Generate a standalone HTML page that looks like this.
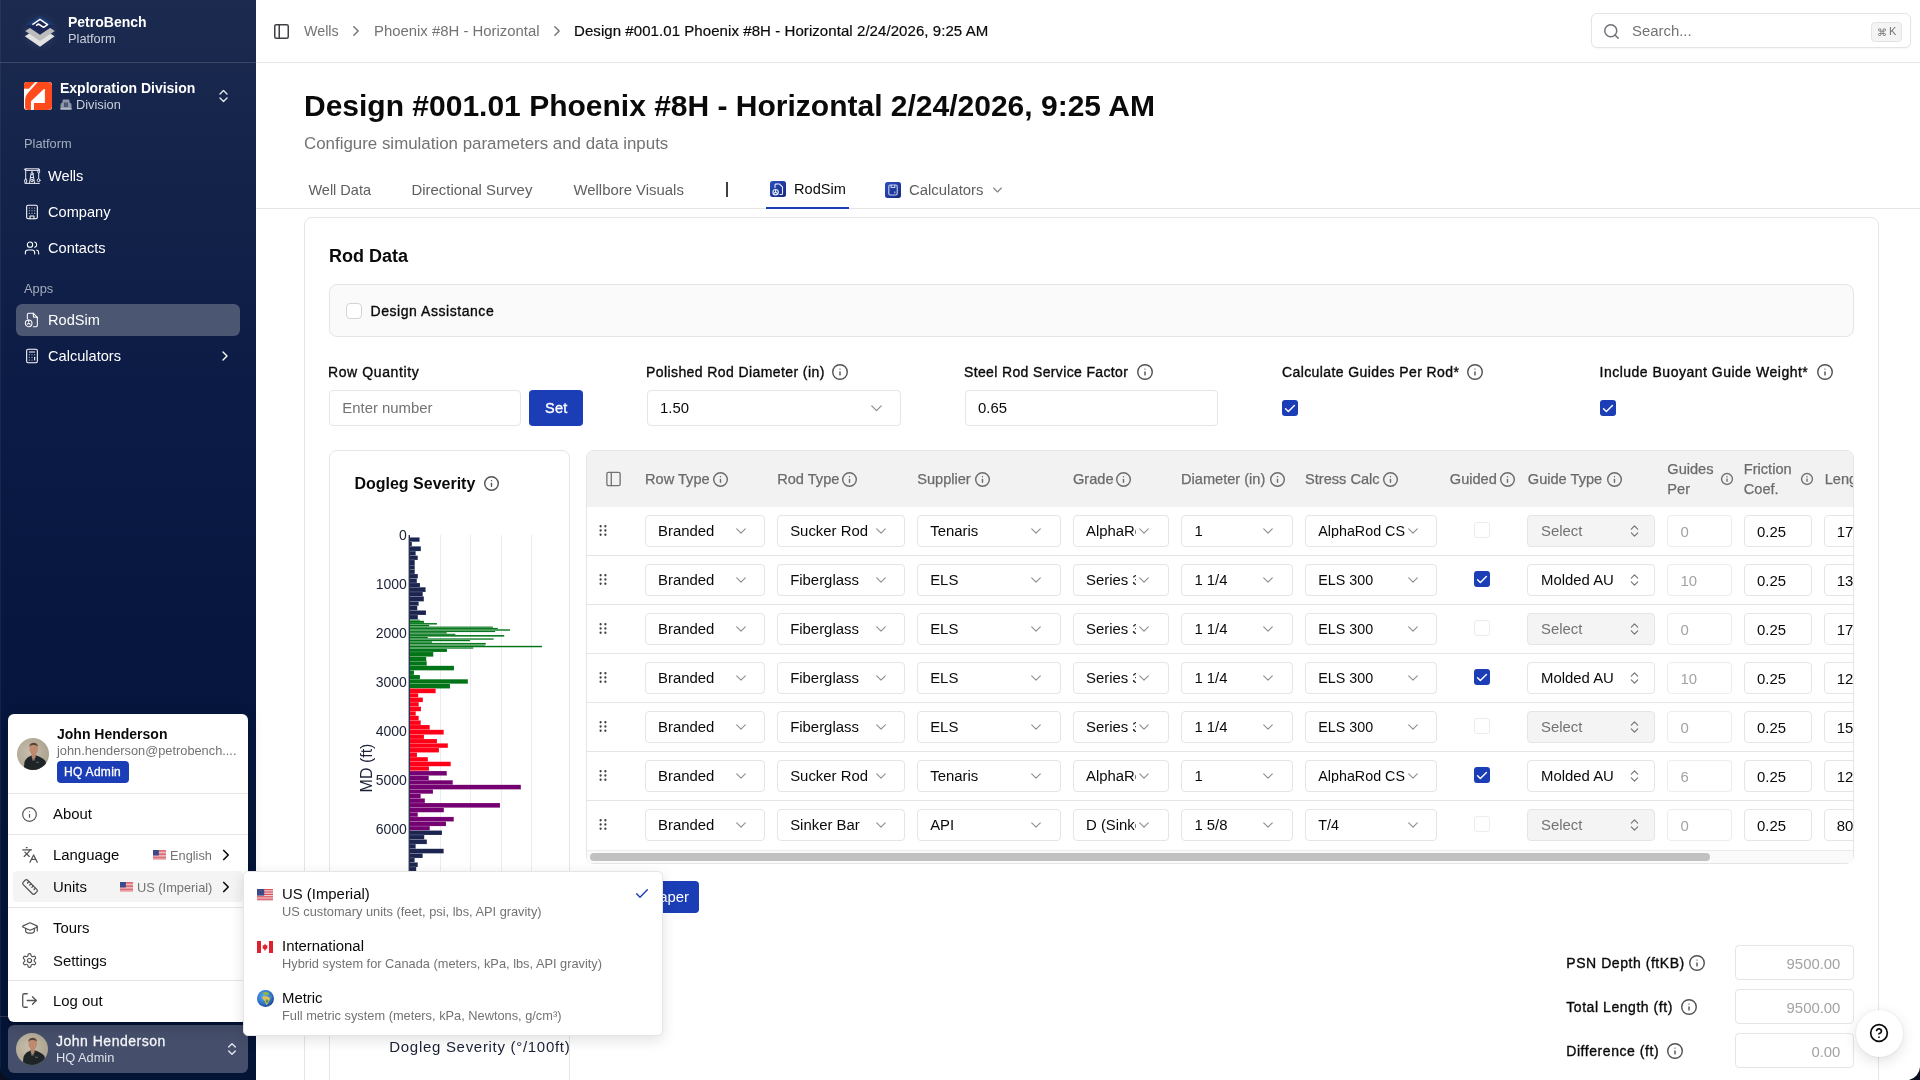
<!DOCTYPE html>
<html><head><meta charset="utf-8"><title>PetroBench</title>
<style>
html,body{margin:0;padding:0;width:1920px;height:1080px;overflow:hidden;background:#fff;font-family:"Liberation Sans", sans-serif;}
.t{position:absolute;white-space:nowrap;line-height:1;font-family:"Liberation Sans", sans-serif;}
.r{position:absolute;}
svg.r{overflow:visible}
</style></head><body><div id="root" style="position:absolute;left:0;top:0;width:1920px;height:1080px;overflow:hidden;background:#fff;will-change:transform">
<div class="r" style="left:0;top:0;width:256px;height:1080px;background:linear-gradient(180deg,#1c2a50 0%,#15244a 14%,#0b1b45 37%,#06163f 60%,#041435 100%);"></div>
<div class="r" style="left:0;top:0;width:1px;height:1080px;background:rgba(255,255,255,0.06)"></div>
<svg class="r" style="left:20px;top:10px" width="40" height="40" viewBox="0 0 40 40">
      <defs><radialGradient id="lg" cx="0.5" cy="0.5" r="0.5"><stop offset="0" stop-color="#ffffff" stop-opacity="0.10"/><stop offset="1" stop-color="#ffffff" stop-opacity="0"/></radialGradient></defs>
      <circle cx="20" cy="22" r="20" fill="url(#lg)"/>
      <path d="M4.8 26.3 L20 16.7 L34.6 26.3 L20 36.7Z" fill="#e2e2e2"/>
      <path d="M5.2 21.1 L20 11.5 L34.8 21.1 L20 30.9Z" fill="#bcbcbc"/>
      <path d="M5.2 14.8 L20 5.2 L34.8 14.8 L20 24.8Z" fill="#1b2757"/>
      <path d="M5.2 14.8 L20 5.2 L34.8 14.8 L27 15 L20 10 L12 15Z" fill="#1d3a6e"/>
      <path d="M12.4 14.6 L20 9.4 L27.6 14.6 L23.6 17.3 L18.5 14 L16 15.6" fill="none" stroke="#ffffff" stroke-width="1.5" stroke-linejoin="round"/>
      <path d="M19.5 12.5 L23 14.8" stroke="#1b2757" stroke-width="1.2"/>
    </svg>
<div class="t" style="left:68.00px;top:15.00px;font-size:14px;color:#ffffff;font-weight:bold;">PetroBench</div>
<div class="t" style="left:68.00px;top:33.00px;font-size:12.8px;color:#c9ced9;font-weight:normal;">Platform</div>
<div class="r" style="left:0px;top:62px;width:256px;height:1px;background:#3b4766"></div>
<svg class="r" style="left:24px;top:82px" width="28" height="28" viewBox="0 0 28 28">
      <rect width="28" height="28" rx="3" fill="#ffffff"/>
      <path d="M0 3 Q0 0 3 0 L11.2 0 L4.9 6.8 L0 6.8Z" fill="#ff4a1c"/>
      <path d="M13.7 0 L24 0 Q28 0 28 4 L28 24 Q28 28 24 28 L9.9 28 L9.9 20.9 L20.9 20.9 L20.9 7.1 L19.8 7.1 L7 19.2 L6.9 28 L4 28 Q1.1 28 1.1 25 L1.1 17.5 Q1.1 14 3.5 11.5Z" fill="#ff4a1c"/>
    </svg>
<div class="t" style="left:60.00px;top:81.00px;font-size:14px;color:#ffffff;font-weight:bold;">Exploration Division</div>
<svg class="r" style="left:60px;top:99px" width="12" height="11" viewBox="0 0 12 11"><path d="M0.5 10.5 V6 Q0.5 3.5 2.5 3.5 L2.5 1.5 Q2.5 0.5 3.5 0.5 L8.5 0.5 Q9.5 0.5 9.5 1.5 L9.5 3.5 Q11.5 3.5 11.5 6 V10.5Z" fill="#8d95a8"/><rect x="4.3" y="3.5" width="1.3" height="4.5" fill="#2b3654"/><rect x="6.4" y="3.5" width="1.3" height="4.5" fill="#2b3654"/><rect x="0.5" y="9.3" width="11" height="1.2" fill="#c5cad6"/></svg>
<div class="t" style="left:76.00px;top:99.00px;font-size:12.8px;color:#c9ced9;font-weight:normal;">Division</div>
<svg class="r" style="left:217px;top:89px;color:#e6e8ee;" width="13" height="14" viewBox="3 2 18 20" fill="none" stroke="currentColor" stroke-width="2" stroke-linecap="round" stroke-linejoin="round"><path d="m7 15 5 5 5-5"/><path d="m7 9 5-5 5 5"/></svg>
<div class="t" style="left:24.00px;top:138.00px;font-size:12.8px;color:#a4acbe;font-weight:normal;">Platform</div>
<svg class="r" style="left:24px;top:168px" width="16" height="16" viewBox="0 0 16 16" fill="none" stroke="#e8eaf0" stroke-width="1" stroke-linecap="round" stroke-linejoin="round"><rect x="1.6" y="0.8" width="13.6" height="1.6" rx="0.4"/><circle cx="1" cy="1.4" r="0.6"/><path d="M1.7 2.4 V11"/><rect x="0.7" y="11" width="2" height="4" rx="1"/><rect x="13.9" y="1.2" width="1.7" height="4" rx="0.85"/><path d="M14.7 5.2 V10.6"/><circle cx="14.6" cy="12.3" r="1.4"/><path d="M8 2.4 V4.6"/><circle cx="8" cy="5.8" r="1.1"/><path d="M6.9 6.5 L5.5 15 M9.1 6.5 L10.5 15 M6.4 9.6 H9.6"/><circle cx="8" cy="12.4" r="1.2"/><path d="M1 15.4 H15.4"/></svg>
<div class="t" style="left:48.00px;top:169.00px;font-size:14.6px;color:#ffffff;font-weight:normal;">Wells</div>
<svg class="r" style="left:24px;top:204px;color:#ffffff;" width="16" height="16" viewBox="0 0 24 24" fill="none" stroke="currentColor" stroke-width="1.6" stroke-linecap="round" stroke-linejoin="round"><rect width="16" height="20" x="4" y="2" rx="2" ry="2"/><path d="M9 22v-4h6v4"/><path d="M8 6h.01"/><path d="M16 6h.01"/><path d="M12 6h.01"/><path d="M12 10h.01"/><path d="M12 14h.01"/><path d="M16 10h.01"/><path d="M16 14h.01"/><path d="M8 10h.01"/><path d="M8 14h.01"/></svg>
<div class="t" style="left:48.00px;top:205.00px;font-size:14.6px;color:#ffffff;font-weight:normal;">Company</div>
<svg class="r" style="left:24px;top:240px;color:#ffffff;" width="16" height="16" viewBox="0 0 24 24" fill="none" stroke="currentColor" stroke-width="1.6" stroke-linecap="round" stroke-linejoin="round"><path d="M16 21v-2a4 4 0 0 0-4-4H6a4 4 0 0 0-4 4v2"/><circle cx="9" cy="7" r="4"/><path d="M22 21v-2a4 4 0 0 0-3-3.87"/><path d="M16 3.13a4 4 0 0 1 0 7.75"/></svg>
<div class="t" style="left:48.00px;top:241.00px;font-size:14.6px;color:#ffffff;font-weight:normal;">Contacts</div>
<div class="t" style="left:24.00px;top:283.00px;font-size:12.8px;color:#a4acbe;font-weight:normal;">Apps</div>
<div class="r" style="left:16px;top:304px;width:224px;height:32px;background:#4b5672;border-radius:6px"></div>
<svg class="r" style="left:24px;top:312px;color:#ffffff;" width="16" height="16" viewBox="0 0 24 24" fill="none" stroke="currentColor" stroke-width="1.6" stroke-linecap="round" stroke-linejoin="round"><path d="M14 2H7a2 2 0 0 0-2 2v6"/><path d="M14 2v4a2 2 0 0 0 2 2h4"/><path d="M20 8v12a2 2 0 0 1-2 2h-4"/><path d="M14 2l6 6"/><circle cx="7" cy="17" r="5"/><path d="M7 15v-3"/><path d="m4.8 18.3 2.2-1.3 2.2 1.3"/></svg>
<div class="t" style="left:48.00px;top:313.00px;font-size:14.6px;color:#ffffff;font-weight:normal;">RodSim</div>
<svg class="r" style="left:24px;top:348px;color:#ffffff;" width="16" height="16" viewBox="0 0 24 24" fill="none" stroke="currentColor" stroke-width="1.6" stroke-linecap="round" stroke-linejoin="round"><rect width="16" height="20" x="4" y="2" rx="2"/><line x1="8" x2="16" y1="6" y2="6"/><line x1="16" x2="16" y1="14" y2="18"/><path d="M16 10h.01"/><path d="M12 10h.01"/><path d="M8 10h.01"/><path d="M12 14h.01"/><path d="M8 14h.01"/><path d="M12 18h.01"/><path d="M8 18h.01"/></svg>
<div class="t" style="left:48.00px;top:349.00px;font-size:14.6px;color:#ffffff;font-weight:normal;">Calculators</div>
<svg class="r" style="left:217px;top:348px;color:#ffffff;" width="16" height="16" viewBox="0 0 24 24" fill="none" stroke="currentColor" stroke-width="2" stroke-linecap="round" stroke-linejoin="round"><path d="m9 18 6-6-6-6"/></svg>
<div class="r" style="left:0px;top:1016px;width:256px;height:1px;background:#2a3656"></div>
<div class="r" style="left:8px;top:1025px;width:240px;height:48px;background:#454f6b;border-radius:6px"></div>
<svg class="r" style="left:16px;top:1033px" width="32" height="32" viewBox="0 0 32 32">
      <defs><clipPath id="cp161033"><circle cx="16" cy="16" r="16"/></clipPath>
      <radialGradient id="bgav161033" cx="0.4" cy="0.45" r="0.7"><stop offset="0" stop-color="#c6bdac"/><stop offset="1" stop-color="#a89f8c"/></radialGradient></defs>
      <g clip-path="url(#cp161033)">
      <rect width="32" height="32" fill="url(#bgav161033)"/>
      <path d="M6.5 33 L7.5 24 C8.5 20.5 12 18.5 14.5 17.5 L19 17.5 C22 18.5 26 20 28.5 23 L30 33Z" fill="#1f2527"/>
      <path d="M14.5 15 L19 15 L18.5 19.5 L16.5 22 L14.8 19.5Z" fill="#b4856b"/>
      <path d="M15 19.5 L16.5 22.5 L18.2 19.5 L17.5 22.5 L15.5 22.5Z" fill="#8f9294"/>
      <ellipse cx="16.7" cy="10.8" rx="4.3" ry="6" fill="#bf8b6f"/>
      <path d="M12.3 9 C12.2 3.5 21 3.3 21.1 9 C20 6.5 13.5 6.3 12.3 9Z" fill="#5a4638"/>
      <path d="M19 24 L22 24.5" stroke="#8a8f92" stroke-width="0.6"/>
      </g></svg>
<div class="t" style="left:56.00px;top:1034.00px;font-size:14px;color:#f4f5f8;font-weight:normal;-webkit-text-stroke:0.3px #f4f5f8;letter-spacing:0.5px">John Henderson</div>
<div class="t" style="left:56.00px;top:1052.00px;font-size:12.8px;color:#dfe2ea;font-weight:normal;">HQ Admin</div>
<svg class="r" style="left:226px;top:1042px;color:#e6e8ee;" width="12" height="14" viewBox="3 2 18 20" fill="none" stroke="currentColor" stroke-width="2" stroke-linecap="round" stroke-linejoin="round"><path d="m7 15 5 5 5-5"/><path d="m7 9 5-5 5 5"/></svg>
<div class="r" style="left:256px;top:62px;width:1664px;height:1px;background:#e5e5e5"></div>
<svg class="r" style="left:274px;top:24px;color:#3f3f46;" width="15" height="15" viewBox="2 2 20 20" fill="none" stroke="currentColor" stroke-width="2" stroke-linecap="round" stroke-linejoin="round"><rect width="18" height="18" x="3" y="3" rx="2"/><path d="M9 3v18"/></svg>
<div class="t" style="left:304.00px;top:24.00px;font-size:14.3px;color:#737373;font-weight:normal;">Wells</div>
<svg class="r" style="left:351px;top:25px;color:#737373;" width="10" height="12" viewBox="5 4 14 16" fill="none" stroke="currentColor" stroke-width="2" stroke-linecap="round" stroke-linejoin="round"><path d="m9 18 6-6-6-6"/></svg>
<div class="t" style="left:374.00px;top:24.00px;font-size:14.9px;color:#737373;font-weight:normal;">Phoenix #8H - Horizontal</div>
<svg class="r" style="left:552px;top:25px;color:#737373;" width="10" height="12" viewBox="5 4 14 16" fill="none" stroke="currentColor" stroke-width="2" stroke-linecap="round" stroke-linejoin="round"><path d="m9 18 6-6-6-6"/></svg>
<div class="t" style="left:574.00px;top:23.00px;font-size:15.0px;color:#0a0a0a;font-weight:normal;letter-spacing:0.07px;-webkit-text-stroke:0.2px #0a0a0a">Design #001.01 Phoenix #8H - Horizontal 2/24/2026, 9:25 AM</div>
<div class="r" style="left:1591px;top:13px;width:320px;height:35px;background:#fff;border:1px solid #e4e4e7;border-radius:6px;box-sizing:border-box;box-shadow:0 1px 2px rgba(0,0,0,0.04)"></div>
<svg class="r" style="left:1604px;top:24px;color:#71717a;" width="15" height="15" viewBox="2 2 20 20" fill="none" stroke="currentColor" stroke-width="2" stroke-linecap="round" stroke-linejoin="round"><circle cx="11" cy="11" r="8"/><path d="m21 21-4.3-4.3"/></svg>
<div class="t" style="left:1632.00px;top:24.00px;font-size:14.9px;color:#737373;font-weight:normal;">Search...</div>
<div class="r" style="left:1871px;top:22px;width:31px;height:20px;background:#f4f4f5;border:1px solid #e4e4e7;border-radius:4px;box-sizing:border-box"></div>
<div class="t" style="left:1877.00px;top:28.00px;font-size:10px;color:#737373;font-weight:normal;">&#8984;</div>
<div class="t" style="left:1889.00px;top:26.00px;font-size:11px;color:#737373;font-weight:normal;">K</div>
<div class="t" style="left:304.00px;top:91.00px;font-size:30px;color:#0a0a0a;font-weight:bold;">Design #001.01 Phoenix #8H - Horizontal 2/24/2026, 9:25 AM</div>
<div class="t" style="left:304.00px;top:136.00px;font-size:16.9px;color:#737373;font-weight:normal;">Configure simulation parameters and data inputs</div>
<div class="r" style="left:256px;top:208px;width:1664px;height:1px;background:#e5e5e5"></div>
<div class="t" style="left:308.40px;top:183.00px;font-size:14.5px;color:#5f5f5f;font-weight:normal;">Well Data</div>
<div class="t" style="left:411.50px;top:183.00px;font-size:14.9px;color:#5f5f5f;font-weight:normal;">Directional Survey</div>
<div class="t" style="left:573.50px;top:183.00px;font-size:14.9px;color:#5f5f5f;font-weight:normal;">Wellbore Visuals</div>
<div class="r" style="left:726px;top:182px;width:1.5px;height:15px;background:#404040"></div>
<svg class="r" style="left:770px;top:181px" width="16" height="16" viewBox="0 0 16 16"><defs><linearGradient id="tg1" x1="0" y1="0" x2="1" y2="1"><stop offset="0" stop-color="#2a4ec2"/><stop offset="1" stop-color="#172a7e"/></linearGradient></defs><rect width="16" height="16" rx="2.5" fill="url(#tg1)"/><g fill="none" stroke="#e8ecf8" stroke-width="1.1" stroke-linecap="round"><path d="M6 3h3.5l3 3v6.5a1 1 0 0 1-1 1H10"/><path d="M6 3a1 1 0 0 0-1 1v2.5"/><circle cx="5.6" cy="11.2" r="2.7"/><path d="M5.6 11.2V8.8M5.6 11.2l-2 1.3M5.6 11.2l2 1.3"/></g></svg>
<div class="t" style="left:794.00px;top:182.00px;font-size:14.6px;color:#0a0a0a;font-weight:normal;">RodSim</div>
<div class="r" style="left:766px;top:207px;width:83px;height:2px;background:#1b3eb6"></div>
<svg class="r" style="left:885px;top:182px" width="16" height="16" viewBox="0 0 16 16"><defs><linearGradient id="tg2" x1="0" y1="0" x2="1" y2="1"><stop offset="0" stop-color="#2a4ec2"/><stop offset="1" stop-color="#172a7e"/></linearGradient></defs><rect width="16" height="16" rx="2.5" fill="url(#tg2)"/><rect x="3.8" y="3" width="8.4" height="10" rx="1.4" fill="none" stroke="#c9d2ee" stroke-width="1.1"/><path d="M6.2 3v2.5h3.6V3M9.8 9.5v1.8" stroke="#c9d2ee" stroke-width="1.1" fill="none"/></svg>
<div class="t" style="left:909.00px;top:183.00px;font-size:14.9px;color:#5f5f5f;font-weight:normal;">Calculators</div>
<svg class="r" style="left:993px;top:187px;color:#8a8a8a;" width="9" height="6" viewBox="5 8 14 8" fill="none" stroke="currentColor" stroke-width="2" stroke-linecap="round" stroke-linejoin="round"><path d="m6 9 6 6 6-6"/></svg>
<div class="r" style="left:304px;top:217px;width:1575px;height:900px;background:#fff;border:1px solid #e5e5e5;border-radius:8px;box-sizing:border-box"></div>
<div class="t" style="left:329.00px;top:247.00px;font-size:18px;color:#0a0a0a;font-weight:bold;">Rod Data</div>
<div class="r" style="left:329px;top:284px;width:1525px;height:53px;background:#fafafa;border:1px solid #e5e5e5;border-radius:8px;box-sizing:border-box"></div>
<div class="r" style="left:346px;top:303px;width:16px;height:16px;background:#fff;border:1px solid #d4d4d8;border-radius:4px;box-sizing:border-box"></div>
<div class="t" style="left:370.50px;top:304.00px;font-size:14px;color:#0a0a0a;font-weight:normal;-webkit-text-stroke:0.35px #0a0a0a;letter-spacing:0.55px">Design Assistance</div>
<div class="t" style="left:328.00px;top:365.00px;font-size:14px;color:#0a0a0a;font-weight:normal;-webkit-text-stroke:0.35px #0a0a0a;letter-spacing:0.6px">Row Quantity</div>
<div class="t" style="left:646.00px;top:365.00px;font-size:14px;color:#0a0a0a;font-weight:normal;-webkit-text-stroke:0.35px #0a0a0a;letter-spacing:0.41px">Polished Rod Diameter (in)</div>
<svg class="r" style="left:832.0px;top:364.0px;color:#525252;" width="16" height="16" viewBox="1 1 22 22" fill="none" stroke="currentColor" stroke-width="1.9500000000000002" stroke-linecap="round" stroke-linejoin="round"><circle cx="12" cy="12" r="10"/><path d="M12 16v-4"/><path d="M12 8h.01"/></svg>
<div class="t" style="left:964.00px;top:365.00px;font-size:14px;color:#0a0a0a;font-weight:normal;-webkit-text-stroke:0.35px #0a0a0a;letter-spacing:0.36px">Steel Rod Service Factor</div>
<svg class="r" style="left:1137.0px;top:364.0px;color:#525252;" width="16" height="16" viewBox="1 1 22 22" fill="none" stroke="currentColor" stroke-width="1.9500000000000002" stroke-linecap="round" stroke-linejoin="round"><circle cx="12" cy="12" r="10"/><path d="M12 16v-4"/><path d="M12 8h.01"/></svg>
<div class="t" style="left:1282.00px;top:365.00px;font-size:14px;color:#0a0a0a;font-weight:normal;-webkit-text-stroke:0.35px #0a0a0a;letter-spacing:0.4px">Calculate Guides Per Rod*</div>
<svg class="r" style="left:1467.0px;top:364.0px;color:#525252;" width="16" height="16" viewBox="1 1 22 22" fill="none" stroke="currentColor" stroke-width="1.9500000000000002" stroke-linecap="round" stroke-linejoin="round"><circle cx="12" cy="12" r="10"/><path d="M12 16v-4"/><path d="M12 8h.01"/></svg>
<div class="t" style="left:1599.50px;top:365.00px;font-size:14px;color:#0a0a0a;font-weight:normal;-webkit-text-stroke:0.35px #0a0a0a;letter-spacing:0.5px">Include Buoyant Guide Weight*</div>
<svg class="r" style="left:1817.0px;top:364.0px;color:#525252;" width="16" height="16" viewBox="1 1 22 22" fill="none" stroke="currentColor" stroke-width="1.9500000000000002" stroke-linecap="round" stroke-linejoin="round"><circle cx="12" cy="12" r="10"/><path d="M12 16v-4"/><path d="M12 8h.01"/></svg>
<div class="r" style="left:329px;top:390px;width:192px;height:36px;background:#fff;border:1px solid #e5e5e5;border-radius:4px;box-sizing:border-box"></div>
<div class="t" style="left:342.30px;top:401.00px;font-size:14.9px;color:#737373;font-weight:normal;">Enter number</div>
<div class="r" style="left:529px;top:390px;width:54px;height:36px;background:#1b3eb6;border-radius:4px"></div>
<div class="t" style="left:545.00px;top:401.00px;font-size:14.5px;color:#fff;font-weight:normal;-webkit-text-stroke:0.35px #fff;letter-spacing:0.3px">Set</div>
<div class="r" style="left:647px;top:390px;width:254px;height:36px;background:#fff;border:1px solid #e5e5e5;border-radius:4px;box-sizing:border-box"></div>
<div class="t" style="left:660.00px;top:401.00px;font-size:14.9px;color:#0a0a0a;font-weight:normal;">1.50</div>
<svg class="r" style="left:870.5px;top:405px;color:#8f8f8f;" width="11" height="6.5" viewBox="5 8 14 8" fill="none" stroke="currentColor" stroke-width="1.6" stroke-linecap="round" stroke-linejoin="round"><path d="m6 9 6 6 6-6"/></svg>
<div class="r" style="left:965px;top:390px;width:253px;height:36px;background:#fff;border:1px solid #e5e5e5;border-radius:4px;box-sizing:border-box"></div>
<div class="t" style="left:978.00px;top:401.00px;font-size:14.9px;color:#0a0a0a;font-weight:normal;">0.65</div>
<div class="r" style="left:1282px;top:400px;width:16px;height:16px;background:#1b3eb6;border-radius:3px"></div>
<svg class="r" style="left:1285px;top:403.5px;color:#fff;" width="10" height="9" viewBox="3 4 18 15" fill="none" stroke="currentColor" stroke-width="2.6" stroke-linecap="round" stroke-linejoin="round"><path d="M20 6 9 17l-5-5"/></svg>
<div class="r" style="left:1600px;top:400px;width:16px;height:16px;background:#1b3eb6;border-radius:3px"></div>
<svg class="r" style="left:1603px;top:403.5px;color:#fff;" width="10" height="9" viewBox="3 4 18 15" fill="none" stroke="currentColor" stroke-width="2.6" stroke-linecap="round" stroke-linejoin="round"><path d="M20 6 9 17l-5-5"/></svg>
<div class="r" style="left:329px;top:450px;width:241px;height:700px;background:#fff;border:1px solid #e5e5e5;border-radius:8px;box-sizing:border-box"></div>
<div class="t" style="left:354.40px;top:476.00px;font-size:16px;color:#0a0a0a;font-weight:bold;">Dogleg Severity</div>
<svg class="r" style="left:484.4px;top:475.5px;color:#525252;" width="15.0" height="15.0" viewBox="1 1 22 22" fill="none" stroke="currentColor" stroke-width="2.08" stroke-linecap="round" stroke-linejoin="round"><circle cx="12" cy="12" r="10"/><path d="M12 16v-4"/><path d="M12 8h.01"/></svg>
<div class="r" style="left:440.0px;top:535px;width:1px;height:336px;background:#ebecef"></div>
<div class="r" style="left:470.3px;top:535px;width:1px;height:336px;background:#ebecef"></div>
<div class="r" style="left:500.7px;top:535px;width:1px;height:336px;background:#ebecef"></div>
<div class="r" style="left:531.1px;top:535px;width:1px;height:336px;background:#ebecef"></div>
<svg class="r" style="left:0;top:0" width="600" height="900" viewBox="0 0 600 900"><rect x="409.5" y="537.40" width="10.10" height="4.40" fill="#1b2550" stroke="rgba(255,255,255,0.35)" stroke-width="0.4"/><rect x="409.5" y="541.80" width="2.40" height="4.50" fill="#1b2550" stroke="rgba(255,255,255,0.35)" stroke-width="0.4"/><rect x="409.5" y="546.30" width="11.40" height="4.80" fill="#1b2550" stroke="rgba(255,255,255,0.35)" stroke-width="0.4"/><rect x="409.5" y="551.10" width="6.20" height="4.50" fill="#1b2550" stroke="rgba(255,255,255,0.35)" stroke-width="0.4"/><rect x="409.5" y="555.60" width="8.30" height="4.40" fill="#1b2550" stroke="rgba(255,255,255,0.35)" stroke-width="0.4"/><rect x="409.5" y="560.00" width="5.30" height="5.20" fill="#1b2550" stroke="rgba(255,255,255,0.35)" stroke-width="0.4"/><rect x="409.5" y="565.20" width="5.30" height="4.10" fill="#1b2550" stroke="rgba(255,255,255,0.35)" stroke-width="0.4"/><rect x="409.5" y="569.30" width="5.30" height="4.70" fill="#1b2550" stroke="rgba(255,255,255,0.35)" stroke-width="0.4"/><rect x="409.5" y="574.00" width="8.40" height="4.50" fill="#1b2550" stroke="rgba(255,255,255,0.35)" stroke-width="0.4"/><rect x="409.5" y="578.50" width="7.40" height="4.50" fill="#1b2550" stroke="rgba(255,255,255,0.35)" stroke-width="0.4"/><rect x="409.5" y="583.00" width="10.50" height="4.20" fill="#1b2550" stroke="rgba(255,255,255,0.35)" stroke-width="0.4"/><rect x="409.5" y="587.20" width="16.10" height="4.80" fill="#1b2550" stroke="rgba(255,255,255,0.35)" stroke-width="0.4"/><rect x="409.5" y="592.00" width="13.30" height="4.40" fill="#1b2550" stroke="rgba(255,255,255,0.35)" stroke-width="0.4"/><rect x="409.5" y="596.40" width="14.40" height="5.00" fill="#1b2550" stroke="rgba(255,255,255,0.35)" stroke-width="0.4"/><rect x="409.5" y="601.40" width="9.20" height="4.40" fill="#1b2550" stroke="rgba(255,255,255,0.35)" stroke-width="0.4"/><rect x="409.5" y="605.80" width="7.80" height="4.60" fill="#1b2550" stroke="rgba(255,255,255,0.35)" stroke-width="0.4"/><rect x="409.5" y="610.40" width="16.50" height="4.60" fill="#1b2550" stroke="rgba(255,255,255,0.35)" stroke-width="0.4"/><rect x="409.5" y="615.00" width="8.40" height="4.60" fill="#1b2550" stroke="rgba(255,255,255,0.35)" stroke-width="0.4"/><rect x="409.5" y="619.60" width="10.30" height="1.20" fill="#007417" stroke="rgba(255,255,255,0.35)" stroke-width="0.4"/><rect x="409.5" y="620.80" width="14.50" height="2.20" fill="#007417" stroke="rgba(255,255,255,0.35)" stroke-width="0.4"/><rect x="409.5" y="623.00" width="27.50" height="1.60" fill="#007417" stroke="rgba(255,255,255,0.35)" stroke-width="0.4"/><rect x="409.5" y="624.60" width="19.70" height="1.90" fill="#007417" stroke="rgba(255,255,255,0.35)" stroke-width="0.4"/><rect x="409.5" y="626.50" width="83.40" height="1.40" fill="#007417" stroke="rgba(255,255,255,0.35)" stroke-width="0.4"/><rect x="409.5" y="627.90" width="88.40" height="1.30" fill="#007417" stroke="rgba(255,255,255,0.35)" stroke-width="0.4"/><rect x="409.5" y="629.20" width="100.50" height="1.60" fill="#007417" stroke="rgba(255,255,255,0.35)" stroke-width="0.4"/><rect x="409.5" y="630.80" width="85.70" height="1.30" fill="#007417" stroke="rgba(255,255,255,0.35)" stroke-width="0.4"/><rect x="409.5" y="632.10" width="37.20" height="1.65" fill="#007417" stroke="rgba(255,255,255,0.35)" stroke-width="0.4"/><rect x="409.5" y="633.75" width="45.90" height="1.25" fill="#007417" stroke="rgba(255,255,255,0.35)" stroke-width="0.4"/><rect x="409.5" y="635.00" width="94.70" height="1.70" fill="#007417" stroke="rgba(255,255,255,0.35)" stroke-width="0.4"/><rect x="409.5" y="636.70" width="18.40" height="1.60" fill="#007417" stroke="rgba(255,255,255,0.35)" stroke-width="0.4"/><rect x="409.5" y="638.30" width="84.10" height="1.50" fill="#007417" stroke="rgba(255,255,255,0.35)" stroke-width="0.4"/><rect x="409.5" y="639.80" width="60.50" height="1.45" fill="#007417" stroke="rgba(255,255,255,0.35)" stroke-width="0.4"/><rect x="409.5" y="641.25" width="22.50" height="1.65" fill="#007417" stroke="rgba(255,255,255,0.35)" stroke-width="0.4"/><rect x="409.5" y="642.90" width="76.30" height="1.70" fill="#007417" stroke="rgba(255,255,255,0.35)" stroke-width="0.4"/><rect x="409.5" y="644.60" width="75.30" height="1.20" fill="#007417" stroke="rgba(255,255,255,0.35)" stroke-width="0.4"/><rect x="409.5" y="645.80" width="132.50" height="1.50" fill="#007417" stroke="rgba(255,255,255,0.35)" stroke-width="0.4"/><rect x="409.5" y="647.30" width="63.80" height="1.45" fill="#007417" stroke="rgba(255,255,255,0.35)" stroke-width="0.4"/><rect x="409.5" y="648.75" width="37.50" height="3.25" fill="#007417" stroke="rgba(255,255,255,0.35)" stroke-width="0.4"/><rect x="409.5" y="652.00" width="23.80" height="4.70" fill="#007417" stroke="rgba(255,255,255,0.35)" stroke-width="0.4"/><rect x="409.5" y="656.70" width="16.75" height="4.55" fill="#007417" stroke="rgba(255,255,255,0.35)" stroke-width="0.4"/><rect x="409.5" y="661.25" width="17.30" height="4.55" fill="#007417" stroke="rgba(255,255,255,0.35)" stroke-width="0.4"/><rect x="409.5" y="665.80" width="44.50" height="4.60" fill="#007417" stroke="rgba(255,255,255,0.35)" stroke-width="0.4"/><rect x="409.5" y="670.40" width="4.50" height="4.60" fill="#007417" stroke="rgba(255,255,255,0.35)" stroke-width="0.4"/><rect x="409.5" y="675.00" width="10.50" height="4.20" fill="#007417" stroke="rgba(255,255,255,0.35)" stroke-width="0.4"/><rect x="409.5" y="679.20" width="58.40" height="4.55" fill="#007417" stroke="rgba(255,255,255,0.35)" stroke-width="0.4"/><rect x="409.5" y="683.75" width="40.50" height="4.75" fill="#007417" stroke="rgba(255,255,255,0.35)" stroke-width="0.4"/><rect x="409.5" y="688.50" width="26.20" height="4.70" fill="#ff0018" stroke="rgba(255,255,255,0.35)" stroke-width="0.4"/><rect x="409.5" y="693.20" width="8.70" height="4.30" fill="#ff0018" stroke="rgba(255,255,255,0.35)" stroke-width="0.4"/><rect x="409.5" y="697.50" width="13.40" height="4.60" fill="#ff0018" stroke="rgba(255,255,255,0.35)" stroke-width="0.4"/><rect x="409.5" y="702.10" width="9.25" height="4.60" fill="#ff0018" stroke="rgba(255,255,255,0.35)" stroke-width="0.4"/><rect x="409.5" y="706.70" width="11.50" height="4.55" fill="#ff0018" stroke="rgba(255,255,255,0.35)" stroke-width="0.4"/><rect x="409.5" y="711.25" width="6.30" height="4.55" fill="#ff0018" stroke="rgba(255,255,255,0.35)" stroke-width="0.4"/><rect x="409.5" y="715.80" width="9.25" height="4.60" fill="#ff0018" stroke="rgba(255,255,255,0.35)" stroke-width="0.4"/><rect x="409.5" y="720.40" width="11.30" height="4.60" fill="#ff0018" stroke="rgba(255,255,255,0.35)" stroke-width="0.4"/><rect x="409.5" y="725.00" width="20.30" height="4.80" fill="#ff0018" stroke="rgba(255,255,255,0.35)" stroke-width="0.4"/><rect x="409.5" y="729.80" width="34.25" height="4.80" fill="#ff0018" stroke="rgba(255,255,255,0.35)" stroke-width="0.4"/><rect x="409.5" y="734.60" width="14.50" height="4.40" fill="#ff0018" stroke="rgba(255,255,255,0.35)" stroke-width="0.4"/><rect x="409.5" y="739.00" width="27.50" height="4.30" fill="#ff0018" stroke="rgba(255,255,255,0.35)" stroke-width="0.4"/><rect x="409.5" y="743.30" width="38.40" height="4.60" fill="#ff0018" stroke="rgba(255,255,255,0.35)" stroke-width="0.4"/><rect x="409.5" y="747.90" width="29.50" height="4.60" fill="#ff0018" stroke="rgba(255,255,255,0.35)" stroke-width="0.4"/><rect x="409.5" y="752.50" width="7.50" height="4.60" fill="#ff0018" stroke="rgba(255,255,255,0.35)" stroke-width="0.4"/><rect x="409.5" y="757.10" width="18.40" height="4.60" fill="#ff0018" stroke="rgba(255,255,255,0.35)" stroke-width="0.4"/><rect x="409.5" y="761.70" width="41.30" height="4.55" fill="#ff0018" stroke="rgba(255,255,255,0.35)" stroke-width="0.4"/><rect x="409.5" y="766.25" width="19.50" height="4.55" fill="#ff0018" stroke="rgba(255,255,255,0.35)" stroke-width="0.4"/><rect x="409.5" y="771.00" width="37.30" height="4.60" fill="#750072" stroke="rgba(255,255,255,0.35)" stroke-width="0.4"/><rect x="409.5" y="775.60" width="19.30" height="4.60" fill="#750072" stroke="rgba(255,255,255,0.35)" stroke-width="0.4"/><rect x="409.5" y="780.20" width="43.30" height="4.60" fill="#750072" stroke="rgba(255,255,255,0.35)" stroke-width="0.4"/><rect x="409.5" y="784.80" width="111.40" height="4.60" fill="#750072" stroke="rgba(255,255,255,0.35)" stroke-width="0.4"/><rect x="409.5" y="789.40" width="23.50" height="4.40" fill="#750072" stroke="rgba(255,255,255,0.35)" stroke-width="0.4"/><rect x="409.5" y="793.80" width="11.20" height="4.60" fill="#750072" stroke="rgba(255,255,255,0.35)" stroke-width="0.4"/><rect x="409.5" y="798.40" width="15.40" height="4.60" fill="#750072" stroke="rgba(255,255,255,0.35)" stroke-width="0.4"/><rect x="409.5" y="803.00" width="90.50" height="4.70" fill="#750072" stroke="rgba(255,255,255,0.35)" stroke-width="0.4"/><rect x="409.5" y="807.70" width="34.40" height="4.60" fill="#750072" stroke="rgba(255,255,255,0.35)" stroke-width="0.4"/><rect x="409.5" y="812.30" width="8.30" height="4.60" fill="#750072" stroke="rgba(255,255,255,0.35)" stroke-width="0.4"/><rect x="409.5" y="816.90" width="44.30" height="4.60" fill="#750072" stroke="rgba(255,255,255,0.35)" stroke-width="0.4"/><rect x="409.5" y="821.50" width="36.50" height="4.60" fill="#750072" stroke="rgba(255,255,255,0.35)" stroke-width="0.4"/><rect x="409.5" y="826.10" width="20.30" height="4.40" fill="#750072" stroke="rgba(255,255,255,0.35)" stroke-width="0.4"/><rect x="409.5" y="830.50" width="32.50" height="4.50" fill="#1b2550" stroke="rgba(255,255,255,0.35)" stroke-width="0.4"/><rect x="409.5" y="835.00" width="14.75" height="4.50" fill="#1b2550" stroke="rgba(255,255,255,0.35)" stroke-width="0.4"/><rect x="409.5" y="839.50" width="17.40" height="4.60" fill="#1b2550" stroke="rgba(255,255,255,0.35)" stroke-width="0.4"/><rect x="409.5" y="844.10" width="6.20" height="4.65" fill="#1b2550" stroke="rgba(255,255,255,0.35)" stroke-width="0.4"/><rect x="409.5" y="848.75" width="34.20" height="4.65" fill="#1b2550" stroke="rgba(255,255,255,0.35)" stroke-width="0.4"/><rect x="409.5" y="853.40" width="13.20" height="4.60" fill="#1b2550" stroke="rgba(255,255,255,0.35)" stroke-width="0.4"/><rect x="409.5" y="858.00" width="5.20" height="4.40" fill="#1b2550" stroke="rgba(255,255,255,0.35)" stroke-width="0.4"/><rect x="409.5" y="862.40" width="8.30" height="4.60" fill="#1b2550" stroke="rgba(255,255,255,0.35)" stroke-width="0.4"/><rect x="409.5" y="867.00" width="6.70" height="4.10" fill="#1b2550" stroke="rgba(255,255,255,0.35)" stroke-width="0.4"/><rect x="408.6" y="535" width="1.4" height="336" fill="#2a3350"/></svg>
<div class="t" style="right:1513.20px;top:528.00px;font-size:14px;color:#1b2036;font-weight:normal;">0</div>
<div class="t" style="right:1513.20px;top:577.00px;font-size:14px;color:#1b2036;font-weight:normal;">1000</div>
<div class="t" style="right:1513.20px;top:626.00px;font-size:14px;color:#1b2036;font-weight:normal;">2000</div>
<div class="t" style="right:1513.20px;top:675.00px;font-size:14px;color:#1b2036;font-weight:normal;">3000</div>
<div class="t" style="right:1513.20px;top:724.00px;font-size:14px;color:#1b2036;font-weight:normal;">4000</div>
<div class="t" style="right:1513.20px;top:773.00px;font-size:14px;color:#1b2036;font-weight:normal;">5000</div>
<div class="t" style="right:1513.20px;top:822.00px;font-size:14px;color:#1b2036;font-weight:normal;">6000</div>
<div class="t" style="left:366.7px;top:767.7px;font-size:16px;color:#1b2036;transform:translate(-50%,-50%) rotate(-90deg);line-height:1">MD (ft)</div>
<div class="t" style="left:389.30px;top:1039.00px;font-size:15px;color:#1b2036;font-weight:normal;letter-spacing:0.7px">Dogleg Severity (°/100ft)</div>
<div class="r" style="left:586px;top:450px;width:1268px;height:414px;border:1px solid #e5e5e5;border-radius:8px;box-sizing:border-box;overflow:hidden;background:#fff">
<div style="position:absolute;left:0;top:0;width:100%;height:56px;background:#f2f2f2"></div>
</div>
<svg class="r" style="left:605.5px;top:472px;color:#737373;" width="15" height="14" viewBox="2.5 2.5 19 19" fill="none" stroke="currentColor" stroke-width="1.8" stroke-linecap="round" stroke-linejoin="round"><rect width="18" height="18" x="3" y="3" rx="2"/><path d="M9 3v18"/></svg>
<div class="t" style="left:645.00px;top:472.00px;font-size:14.6px;color:#6b6b6b;font-weight:normal;-webkit-text-stroke:0.25px #6b6b6b">Row Type</div>
<svg class="r" style="left:712.5px;top:471.5px;color:#6b6b6b;" width="15.0" height="15.0" viewBox="1 1 22 22" fill="none" stroke="currentColor" stroke-width="2.08" stroke-linecap="round" stroke-linejoin="round"><circle cx="12" cy="12" r="10"/><path d="M12 16v-4"/><path d="M12 8h.01"/></svg>
<div class="t" style="left:777.20px;top:472.00px;font-size:14.6px;color:#6b6b6b;font-weight:normal;-webkit-text-stroke:0.25px #6b6b6b">Rod Type</div>
<svg class="r" style="left:842.0px;top:471.5px;color:#6b6b6b;" width="15.0" height="15.0" viewBox="1 1 22 22" fill="none" stroke="currentColor" stroke-width="2.08" stroke-linecap="round" stroke-linejoin="round"><circle cx="12" cy="12" r="10"/><path d="M12 16v-4"/><path d="M12 8h.01"/></svg>
<div class="t" style="left:917.20px;top:472.00px;font-size:14.6px;color:#6b6b6b;font-weight:normal;-webkit-text-stroke:0.25px #6b6b6b">Supplier</div>
<svg class="r" style="left:974.5px;top:471.5px;color:#6b6b6b;" width="15.0" height="15.0" viewBox="1 1 22 22" fill="none" stroke="currentColor" stroke-width="2.08" stroke-linecap="round" stroke-linejoin="round"><circle cx="12" cy="12" r="10"/><path d="M12 16v-4"/><path d="M12 8h.01"/></svg>
<div class="t" style="left:1073.00px;top:472.00px;font-size:14.6px;color:#6b6b6b;font-weight:normal;-webkit-text-stroke:0.25px #6b6b6b">Grade</div>
<svg class="r" style="left:1115.5px;top:471.5px;color:#6b6b6b;" width="15.0" height="15.0" viewBox="1 1 22 22" fill="none" stroke="currentColor" stroke-width="2.08" stroke-linecap="round" stroke-linejoin="round"><circle cx="12" cy="12" r="10"/><path d="M12 16v-4"/><path d="M12 8h.01"/></svg>
<div class="t" style="left:1181.00px;top:472.00px;font-size:14.6px;color:#6b6b6b;font-weight:normal;-webkit-text-stroke:0.25px #6b6b6b">Diameter (in)</div>
<svg class="r" style="left:1269.5px;top:471.5px;color:#6b6b6b;" width="15.0" height="15.0" viewBox="1 1 22 22" fill="none" stroke="currentColor" stroke-width="2.08" stroke-linecap="round" stroke-linejoin="round"><circle cx="12" cy="12" r="10"/><path d="M12 16v-4"/><path d="M12 8h.01"/></svg>
<div class="t" style="left:1305.00px;top:472.00px;font-size:14.6px;color:#6b6b6b;font-weight:normal;-webkit-text-stroke:0.25px #6b6b6b">Stress Calc</div>
<svg class="r" style="left:1383.2px;top:471.5px;color:#6b6b6b;" width="15.0" height="15.0" viewBox="1 1 22 22" fill="none" stroke="currentColor" stroke-width="2.08" stroke-linecap="round" stroke-linejoin="round"><circle cx="12" cy="12" r="10"/><path d="M12 16v-4"/><path d="M12 8h.01"/></svg>
<div class="t" style="left:1449.80px;top:472.00px;font-size:14.6px;color:#6b6b6b;font-weight:normal;-webkit-text-stroke:0.25px #6b6b6b">Guided</div>
<svg class="r" style="left:1499.5px;top:471.5px;color:#6b6b6b;" width="15.0" height="15.0" viewBox="1 1 22 22" fill="none" stroke="currentColor" stroke-width="2.08" stroke-linecap="round" stroke-linejoin="round"><circle cx="12" cy="12" r="10"/><path d="M12 16v-4"/><path d="M12 8h.01"/></svg>
<div class="t" style="left:1527.80px;top:472.00px;font-size:14.6px;color:#6b6b6b;font-weight:normal;-webkit-text-stroke:0.25px #6b6b6b">Guide Type</div>
<svg class="r" style="left:1606.5px;top:471.5px;color:#6b6b6b;" width="15.0" height="15.0" viewBox="1 1 22 22" fill="none" stroke="currentColor" stroke-width="2.08" stroke-linecap="round" stroke-linejoin="round"><circle cx="12" cy="12" r="10"/><path d="M12 16v-4"/><path d="M12 8h.01"/></svg>
<div class="t" style="left:1667.30px;top:462.00px;font-size:14.6px;color:#6b6b6b;font-weight:normal;-webkit-text-stroke:0.25px #6b6b6b">Guides</div>
<div class="t" style="left:1667.30px;top:482.00px;font-size:14.6px;color:#6b6b6b;font-weight:normal;-webkit-text-stroke:0.25px #6b6b6b">Per</div>
<svg class="r" style="left:1720.5px;top:473.0px;color:#737373;" width="12" height="12" viewBox="1 1 22 22" fill="none" stroke="currentColor" stroke-width="2.6" stroke-linecap="round" stroke-linejoin="round"><circle cx="12" cy="12" r="10"/><path d="M12 16v-4"/><path d="M12 8h.01"/></svg>
<div class="t" style="left:1743.80px;top:462.00px;font-size:14.6px;color:#6b6b6b;font-weight:normal;-webkit-text-stroke:0.25px #6b6b6b">Friction</div>
<div class="t" style="left:1743.80px;top:482.00px;font-size:14.6px;color:#6b6b6b;font-weight:normal;-webkit-text-stroke:0.25px #6b6b6b">Coef.</div>
<svg class="r" style="left:1800.8px;top:473.0px;color:#737373;" width="12" height="12" viewBox="1 1 22 22" fill="none" stroke="currentColor" stroke-width="2.6" stroke-linecap="round" stroke-linejoin="round"><circle cx="12" cy="12" r="10"/><path d="M12 16v-4"/><path d="M12 8h.01"/></svg>
<div class="r" style="left:1824px;top:460px;width:29px;height:40px;overflow:hidden"><div class="t" style="left:0.7px;top:11.5px;font-size:14.6px;color:#6b6b6b;-webkit-text-stroke:0.25px #6b6b6b">Length</div></div>
<div class="r" style="left:587px;top:555px;width:1266px;height:1px;background:#e5e5e5"></div>
<svg class="r" style="left:598.5px;top:524.9px" width="8" height="11" viewBox="0 0 7 10.6"><circle cx="1.2" cy="1.2" r="1.1" fill="#404040"/><circle cx="1.2" cy="5.3" r="1.1" fill="#404040"/><circle cx="1.2" cy="9.4" r="1.1" fill="#404040"/><circle cx="5.8" cy="1.2" r="1.1" fill="#404040"/><circle cx="5.8" cy="5.3" r="1.1" fill="#404040"/><circle cx="5.8" cy="9.4" r="1.1" fill="#404040"/></svg>
<div class="r" style="left:645px;top:515px;width:120px;height:32px;background:#fff;border:1px solid #e5e5e5;border-radius:4px;box-sizing:border-box"></div>
<div class="t" style="left:658.00px;top:524.00px;font-size:14.9px;color:#0a0a0a;font-weight:normal;">Branded</div>
<svg class="r" style="left:735.5px;top:527.9px;color:#8f8f8f;" width="10" height="6" viewBox="5 8 14 8" fill="none" stroke="currentColor" stroke-width="1.6" stroke-linecap="round" stroke-linejoin="round"><path d="m6 9 6 6 6-6"/></svg>
<div class="r" style="left:777.2px;top:515px;width:128px;height:32px;background:#fff;border:1px solid #e5e5e5;border-radius:4px;box-sizing:border-box"></div>
<div class="t" style="left:790.20px;top:524.00px;font-size:14.9px;color:#0a0a0a;font-weight:normal;">Sucker Rod</div>
<svg class="r" style="left:875.7px;top:527.9px;color:#8f8f8f;" width="10" height="6" viewBox="5 8 14 8" fill="none" stroke="currentColor" stroke-width="1.6" stroke-linecap="round" stroke-linejoin="round"><path d="m6 9 6 6 6-6"/></svg>
<div class="r" style="left:917.2px;top:515px;width:143.5px;height:32px;background:#fff;border:1px solid #e5e5e5;border-radius:4px;box-sizing:border-box"></div>
<div class="t" style="left:930.20px;top:524.00px;font-size:14.9px;color:#0a0a0a;font-weight:normal;">Tenaris</div>
<svg class="r" style="left:1031.2px;top:527.9px;color:#8f8f8f;" width="10" height="6" viewBox="5 8 14 8" fill="none" stroke="currentColor" stroke-width="1.6" stroke-linecap="round" stroke-linejoin="round"><path d="m6 9 6 6 6-6"/></svg>
<div class="r" style="left:1073px;top:515px;width:96px;height:32px;background:#fff;border:1px solid #e5e5e5;border-radius:4px;box-sizing:border-box"></div>
<div class="t" style="left:1086.00px;top:524.00px;font-size:14.9px;color:#0a0a0a;font-weight:normal;width:50px;overflow:hidden">AlphaRo</div>
<svg class="r" style="left:1139px;top:527.9px;color:#8f8f8f;" width="10" height="6" viewBox="5 8 14 8" fill="none" stroke="currentColor" stroke-width="1.6" stroke-linecap="round" stroke-linejoin="round"><path d="m6 9 6 6 6-6"/></svg>
<div class="r" style="left:1181.4px;top:515px;width:111.5px;height:32px;background:#fff;border:1px solid #e5e5e5;border-radius:4px;box-sizing:border-box"></div>
<div class="t" style="left:1194.40px;top:524.00px;font-size:14.9px;color:#0a0a0a;font-weight:normal;">1</div>
<svg class="r" style="left:1263.4px;top:527.9px;color:#8f8f8f;" width="10" height="6" viewBox="5 8 14 8" fill="none" stroke="currentColor" stroke-width="1.6" stroke-linecap="round" stroke-linejoin="round"><path d="m6 9 6 6 6-6"/></svg>
<div class="r" style="left:1305.3px;top:515px;width:132.2px;height:32px;background:#fff;border:1px solid #e5e5e5;border-radius:4px;box-sizing:border-box"></div>
<div class="t" style="left:1318.30px;top:524.00px;font-size:14.9px;color:#0a0a0a;font-weight:normal;width:87px;overflow:hidden;font-size:14.3px">AlphaRod CS</div>
<svg class="r" style="left:1408.0px;top:527.9px;color:#8f8f8f;" width="10" height="6" viewBox="5 8 14 8" fill="none" stroke="currentColor" stroke-width="1.6" stroke-linecap="round" stroke-linejoin="round"><path d="m6 9 6 6 6-6"/></svg>
<div class="r" style="left:1474px;top:522.4px;width:16px;height:16px;background:#fff;border:1px solid #ececec;border-radius:3px;box-sizing:border-box"></div>
<div class="r" style="left:1527px;top:515px;width:128px;height:32px;background:#f4f4f5;border:1px solid #e5e5e5;border-radius:4px;box-sizing:border-box"></div>
<div class="t" style="left:1541.00px;top:524.00px;font-size:14.9px;color:#737373;font-weight:normal;">Select</div>
<svg class="r" style="left:1629.5px;top:523.9px;color:#737373;" width="9" height="14" viewBox="5 2 14 20" fill="none" stroke="currentColor" stroke-width="1.8" stroke-linecap="round" stroke-linejoin="round"><path d="m7 15 5 5 5-5"/><path d="m7 9 5-5 5 5"/></svg>
<div class="r" style="left:1667.3px;top:515px;width:64.5px;height:32px;background:#fff;border:1px solid #ececec;border-radius:4px;box-sizing:border-box"></div>
<div class="t" style="left:1680.40px;top:525.00px;font-size:14.9px;color:#a3a3a3;font-weight:normal;">0</div>
<div class="r" style="left:1743.8px;top:515px;width:68px;height:32px;background:#fff;border:1px solid #e5e5e5;border-radius:4px;box-sizing:border-box"></div>
<div class="t" style="left:1757.00px;top:525.00px;font-size:14.9px;color:#0a0a0a;font-weight:normal;">0.25</div>
<div class="r" style="left:1824px;top:515px;width:29px;height:32px;overflow:hidden"><div style="position:absolute;left:0;top:0;width:60px;height:32px;border:1px solid #e5e5e5;border-radius:4px;box-sizing:border-box"></div></div>
<div class="t" style="left:1836.80px;top:525.00px;font-size:14.9px;color:#0a0a0a;font-weight:normal;width:16.5px;overflow:hidden">170</div>
<div class="r" style="left:587px;top:604px;width:1266px;height:1px;background:#e5e5e5"></div>
<svg class="r" style="left:598.5px;top:573.9px" width="8" height="11" viewBox="0 0 7 10.6"><circle cx="1.2" cy="1.2" r="1.1" fill="#404040"/><circle cx="1.2" cy="5.3" r="1.1" fill="#404040"/><circle cx="1.2" cy="9.4" r="1.1" fill="#404040"/><circle cx="5.8" cy="1.2" r="1.1" fill="#404040"/><circle cx="5.8" cy="5.3" r="1.1" fill="#404040"/><circle cx="5.8" cy="9.4" r="1.1" fill="#404040"/></svg>
<div class="r" style="left:645px;top:564px;width:120px;height:32px;background:#fff;border:1px solid #e5e5e5;border-radius:4px;box-sizing:border-box"></div>
<div class="t" style="left:658.00px;top:573.00px;font-size:14.9px;color:#0a0a0a;font-weight:normal;">Branded</div>
<svg class="r" style="left:735.5px;top:576.9px;color:#8f8f8f;" width="10" height="6" viewBox="5 8 14 8" fill="none" stroke="currentColor" stroke-width="1.6" stroke-linecap="round" stroke-linejoin="round"><path d="m6 9 6 6 6-6"/></svg>
<div class="r" style="left:777.2px;top:564px;width:128px;height:32px;background:#fff;border:1px solid #e5e5e5;border-radius:4px;box-sizing:border-box"></div>
<div class="t" style="left:790.20px;top:573.00px;font-size:14.9px;color:#0a0a0a;font-weight:normal;">Fiberglass</div>
<svg class="r" style="left:875.7px;top:576.9px;color:#8f8f8f;" width="10" height="6" viewBox="5 8 14 8" fill="none" stroke="currentColor" stroke-width="1.6" stroke-linecap="round" stroke-linejoin="round"><path d="m6 9 6 6 6-6"/></svg>
<div class="r" style="left:917.2px;top:564px;width:143.5px;height:32px;background:#fff;border:1px solid #e5e5e5;border-radius:4px;box-sizing:border-box"></div>
<div class="t" style="left:930.20px;top:573.00px;font-size:14.9px;color:#0a0a0a;font-weight:normal;">ELS</div>
<svg class="r" style="left:1031.2px;top:576.9px;color:#8f8f8f;" width="10" height="6" viewBox="5 8 14 8" fill="none" stroke="currentColor" stroke-width="1.6" stroke-linecap="round" stroke-linejoin="round"><path d="m6 9 6 6 6-6"/></svg>
<div class="r" style="left:1073px;top:564px;width:96px;height:32px;background:#fff;border:1px solid #e5e5e5;border-radius:4px;box-sizing:border-box"></div>
<div class="t" style="left:1086.00px;top:573.00px;font-size:14.9px;color:#0a0a0a;font-weight:normal;width:50px;overflow:hidden">Series 3</div>
<svg class="r" style="left:1139px;top:576.9px;color:#8f8f8f;" width="10" height="6" viewBox="5 8 14 8" fill="none" stroke="currentColor" stroke-width="1.6" stroke-linecap="round" stroke-linejoin="round"><path d="m6 9 6 6 6-6"/></svg>
<div class="r" style="left:1181.4px;top:564px;width:111.5px;height:32px;background:#fff;border:1px solid #e5e5e5;border-radius:4px;box-sizing:border-box"></div>
<div class="t" style="left:1194.40px;top:573.00px;font-size:14.9px;color:#0a0a0a;font-weight:normal;">1 1/4</div>
<svg class="r" style="left:1263.4px;top:576.9px;color:#8f8f8f;" width="10" height="6" viewBox="5 8 14 8" fill="none" stroke="currentColor" stroke-width="1.6" stroke-linecap="round" stroke-linejoin="round"><path d="m6 9 6 6 6-6"/></svg>
<div class="r" style="left:1305.3px;top:564px;width:132.2px;height:32px;background:#fff;border:1px solid #e5e5e5;border-radius:4px;box-sizing:border-box"></div>
<div class="t" style="left:1318.30px;top:573.00px;font-size:14.9px;color:#0a0a0a;font-weight:normal;width:87px;overflow:hidden;font-size:14.3px">ELS 300</div>
<svg class="r" style="left:1408.0px;top:576.9px;color:#8f8f8f;" width="10" height="6" viewBox="5 8 14 8" fill="none" stroke="currentColor" stroke-width="1.6" stroke-linecap="round" stroke-linejoin="round"><path d="m6 9 6 6 6-6"/></svg>
<div class="r" style="left:1474px;top:571.4px;width:16px;height:16px;background:#1b3eb6;border-radius:3px"></div>
<svg class="r" style="left:1477px;top:574.9px;color:#fff;" width="10" height="9" viewBox="3 4 18 15" fill="none" stroke="currentColor" stroke-width="2.6" stroke-linecap="round" stroke-linejoin="round"><path d="M20 6 9 17l-5-5"/></svg>
<div class="r" style="left:1527px;top:564px;width:128px;height:32px;background:#fff;border:1px solid #e5e5e5;border-radius:4px;box-sizing:border-box"></div>
<div class="t" style="left:1541.00px;top:573.00px;font-size:14.9px;color:#0a0a0a;font-weight:normal;">Molded AU</div>
<svg class="r" style="left:1629.5px;top:572.9px;color:#737373;" width="9" height="14" viewBox="5 2 14 20" fill="none" stroke="currentColor" stroke-width="1.8" stroke-linecap="round" stroke-linejoin="round"><path d="m7 15 5 5 5-5"/><path d="m7 9 5-5 5 5"/></svg>
<div class="r" style="left:1667.3px;top:564px;width:64.5px;height:32px;background:#fff;border:1px solid #ececec;border-radius:4px;box-sizing:border-box"></div>
<div class="t" style="left:1680.40px;top:574.00px;font-size:14.9px;color:#a3a3a3;font-weight:normal;">10</div>
<div class="r" style="left:1743.8px;top:564px;width:68px;height:32px;background:#fff;border:1px solid #e5e5e5;border-radius:4px;box-sizing:border-box"></div>
<div class="t" style="left:1757.00px;top:574.00px;font-size:14.9px;color:#0a0a0a;font-weight:normal;">0.25</div>
<div class="r" style="left:1824px;top:564px;width:29px;height:32px;overflow:hidden"><div style="position:absolute;left:0;top:0;width:60px;height:32px;border:1px solid #e5e5e5;border-radius:4px;box-sizing:border-box"></div></div>
<div class="t" style="left:1836.80px;top:574.00px;font-size:14.9px;color:#0a0a0a;font-weight:normal;width:16.5px;overflow:hidden">135</div>
<div class="r" style="left:587px;top:653px;width:1266px;height:1px;background:#e5e5e5"></div>
<svg class="r" style="left:598.5px;top:622.9px" width="8" height="11" viewBox="0 0 7 10.6"><circle cx="1.2" cy="1.2" r="1.1" fill="#404040"/><circle cx="1.2" cy="5.3" r="1.1" fill="#404040"/><circle cx="1.2" cy="9.4" r="1.1" fill="#404040"/><circle cx="5.8" cy="1.2" r="1.1" fill="#404040"/><circle cx="5.8" cy="5.3" r="1.1" fill="#404040"/><circle cx="5.8" cy="9.4" r="1.1" fill="#404040"/></svg>
<div class="r" style="left:645px;top:613px;width:120px;height:32px;background:#fff;border:1px solid #e5e5e5;border-radius:4px;box-sizing:border-box"></div>
<div class="t" style="left:658.00px;top:622.00px;font-size:14.9px;color:#0a0a0a;font-weight:normal;">Branded</div>
<svg class="r" style="left:735.5px;top:625.9px;color:#8f8f8f;" width="10" height="6" viewBox="5 8 14 8" fill="none" stroke="currentColor" stroke-width="1.6" stroke-linecap="round" stroke-linejoin="round"><path d="m6 9 6 6 6-6"/></svg>
<div class="r" style="left:777.2px;top:613px;width:128px;height:32px;background:#fff;border:1px solid #e5e5e5;border-radius:4px;box-sizing:border-box"></div>
<div class="t" style="left:790.20px;top:622.00px;font-size:14.9px;color:#0a0a0a;font-weight:normal;">Fiberglass</div>
<svg class="r" style="left:875.7px;top:625.9px;color:#8f8f8f;" width="10" height="6" viewBox="5 8 14 8" fill="none" stroke="currentColor" stroke-width="1.6" stroke-linecap="round" stroke-linejoin="round"><path d="m6 9 6 6 6-6"/></svg>
<div class="r" style="left:917.2px;top:613px;width:143.5px;height:32px;background:#fff;border:1px solid #e5e5e5;border-radius:4px;box-sizing:border-box"></div>
<div class="t" style="left:930.20px;top:622.00px;font-size:14.9px;color:#0a0a0a;font-weight:normal;">ELS</div>
<svg class="r" style="left:1031.2px;top:625.9px;color:#8f8f8f;" width="10" height="6" viewBox="5 8 14 8" fill="none" stroke="currentColor" stroke-width="1.6" stroke-linecap="round" stroke-linejoin="round"><path d="m6 9 6 6 6-6"/></svg>
<div class="r" style="left:1073px;top:613px;width:96px;height:32px;background:#fff;border:1px solid #e5e5e5;border-radius:4px;box-sizing:border-box"></div>
<div class="t" style="left:1086.00px;top:622.00px;font-size:14.9px;color:#0a0a0a;font-weight:normal;width:50px;overflow:hidden">Series 3</div>
<svg class="r" style="left:1139px;top:625.9px;color:#8f8f8f;" width="10" height="6" viewBox="5 8 14 8" fill="none" stroke="currentColor" stroke-width="1.6" stroke-linecap="round" stroke-linejoin="round"><path d="m6 9 6 6 6-6"/></svg>
<div class="r" style="left:1181.4px;top:613px;width:111.5px;height:32px;background:#fff;border:1px solid #e5e5e5;border-radius:4px;box-sizing:border-box"></div>
<div class="t" style="left:1194.40px;top:622.00px;font-size:14.9px;color:#0a0a0a;font-weight:normal;">1 1/4</div>
<svg class="r" style="left:1263.4px;top:625.9px;color:#8f8f8f;" width="10" height="6" viewBox="5 8 14 8" fill="none" stroke="currentColor" stroke-width="1.6" stroke-linecap="round" stroke-linejoin="round"><path d="m6 9 6 6 6-6"/></svg>
<div class="r" style="left:1305.3px;top:613px;width:132.2px;height:32px;background:#fff;border:1px solid #e5e5e5;border-radius:4px;box-sizing:border-box"></div>
<div class="t" style="left:1318.30px;top:622.00px;font-size:14.9px;color:#0a0a0a;font-weight:normal;width:87px;overflow:hidden;font-size:14.3px">ELS 300</div>
<svg class="r" style="left:1408.0px;top:625.9px;color:#8f8f8f;" width="10" height="6" viewBox="5 8 14 8" fill="none" stroke="currentColor" stroke-width="1.6" stroke-linecap="round" stroke-linejoin="round"><path d="m6 9 6 6 6-6"/></svg>
<div class="r" style="left:1474px;top:620.4px;width:16px;height:16px;background:#fff;border:1px solid #ececec;border-radius:3px;box-sizing:border-box"></div>
<div class="r" style="left:1527px;top:613px;width:128px;height:32px;background:#f4f4f5;border:1px solid #e5e5e5;border-radius:4px;box-sizing:border-box"></div>
<div class="t" style="left:1541.00px;top:622.00px;font-size:14.9px;color:#737373;font-weight:normal;">Select</div>
<svg class="r" style="left:1629.5px;top:621.9px;color:#737373;" width="9" height="14" viewBox="5 2 14 20" fill="none" stroke="currentColor" stroke-width="1.8" stroke-linecap="round" stroke-linejoin="round"><path d="m7 15 5 5 5-5"/><path d="m7 9 5-5 5 5"/></svg>
<div class="r" style="left:1667.3px;top:613px;width:64.5px;height:32px;background:#fff;border:1px solid #ececec;border-radius:4px;box-sizing:border-box"></div>
<div class="t" style="left:1680.40px;top:623.00px;font-size:14.9px;color:#a3a3a3;font-weight:normal;">0</div>
<div class="r" style="left:1743.8px;top:613px;width:68px;height:32px;background:#fff;border:1px solid #e5e5e5;border-radius:4px;box-sizing:border-box"></div>
<div class="t" style="left:1757.00px;top:623.00px;font-size:14.9px;color:#0a0a0a;font-weight:normal;">0.25</div>
<div class="r" style="left:1824px;top:613px;width:29px;height:32px;overflow:hidden"><div style="position:absolute;left:0;top:0;width:60px;height:32px;border:1px solid #e5e5e5;border-radius:4px;box-sizing:border-box"></div></div>
<div class="t" style="left:1836.80px;top:623.00px;font-size:14.9px;color:#0a0a0a;font-weight:normal;width:16.5px;overflow:hidden">170</div>
<div class="r" style="left:587px;top:702px;width:1266px;height:1px;background:#e5e5e5"></div>
<svg class="r" style="left:598.5px;top:671.9px" width="8" height="11" viewBox="0 0 7 10.6"><circle cx="1.2" cy="1.2" r="1.1" fill="#404040"/><circle cx="1.2" cy="5.3" r="1.1" fill="#404040"/><circle cx="1.2" cy="9.4" r="1.1" fill="#404040"/><circle cx="5.8" cy="1.2" r="1.1" fill="#404040"/><circle cx="5.8" cy="5.3" r="1.1" fill="#404040"/><circle cx="5.8" cy="9.4" r="1.1" fill="#404040"/></svg>
<div class="r" style="left:645px;top:662px;width:120px;height:32px;background:#fff;border:1px solid #e5e5e5;border-radius:4px;box-sizing:border-box"></div>
<div class="t" style="left:658.00px;top:671.00px;font-size:14.9px;color:#0a0a0a;font-weight:normal;">Branded</div>
<svg class="r" style="left:735.5px;top:674.9px;color:#8f8f8f;" width="10" height="6" viewBox="5 8 14 8" fill="none" stroke="currentColor" stroke-width="1.6" stroke-linecap="round" stroke-linejoin="round"><path d="m6 9 6 6 6-6"/></svg>
<div class="r" style="left:777.2px;top:662px;width:128px;height:32px;background:#fff;border:1px solid #e5e5e5;border-radius:4px;box-sizing:border-box"></div>
<div class="t" style="left:790.20px;top:671.00px;font-size:14.9px;color:#0a0a0a;font-weight:normal;">Fiberglass</div>
<svg class="r" style="left:875.7px;top:674.9px;color:#8f8f8f;" width="10" height="6" viewBox="5 8 14 8" fill="none" stroke="currentColor" stroke-width="1.6" stroke-linecap="round" stroke-linejoin="round"><path d="m6 9 6 6 6-6"/></svg>
<div class="r" style="left:917.2px;top:662px;width:143.5px;height:32px;background:#fff;border:1px solid #e5e5e5;border-radius:4px;box-sizing:border-box"></div>
<div class="t" style="left:930.20px;top:671.00px;font-size:14.9px;color:#0a0a0a;font-weight:normal;">ELS</div>
<svg class="r" style="left:1031.2px;top:674.9px;color:#8f8f8f;" width="10" height="6" viewBox="5 8 14 8" fill="none" stroke="currentColor" stroke-width="1.6" stroke-linecap="round" stroke-linejoin="round"><path d="m6 9 6 6 6-6"/></svg>
<div class="r" style="left:1073px;top:662px;width:96px;height:32px;background:#fff;border:1px solid #e5e5e5;border-radius:4px;box-sizing:border-box"></div>
<div class="t" style="left:1086.00px;top:671.00px;font-size:14.9px;color:#0a0a0a;font-weight:normal;width:50px;overflow:hidden">Series 3</div>
<svg class="r" style="left:1139px;top:674.9px;color:#8f8f8f;" width="10" height="6" viewBox="5 8 14 8" fill="none" stroke="currentColor" stroke-width="1.6" stroke-linecap="round" stroke-linejoin="round"><path d="m6 9 6 6 6-6"/></svg>
<div class="r" style="left:1181.4px;top:662px;width:111.5px;height:32px;background:#fff;border:1px solid #e5e5e5;border-radius:4px;box-sizing:border-box"></div>
<div class="t" style="left:1194.40px;top:671.00px;font-size:14.9px;color:#0a0a0a;font-weight:normal;">1 1/4</div>
<svg class="r" style="left:1263.4px;top:674.9px;color:#8f8f8f;" width="10" height="6" viewBox="5 8 14 8" fill="none" stroke="currentColor" stroke-width="1.6" stroke-linecap="round" stroke-linejoin="round"><path d="m6 9 6 6 6-6"/></svg>
<div class="r" style="left:1305.3px;top:662px;width:132.2px;height:32px;background:#fff;border:1px solid #e5e5e5;border-radius:4px;box-sizing:border-box"></div>
<div class="t" style="left:1318.30px;top:671.00px;font-size:14.9px;color:#0a0a0a;font-weight:normal;width:87px;overflow:hidden;font-size:14.3px">ELS 300</div>
<svg class="r" style="left:1408.0px;top:674.9px;color:#8f8f8f;" width="10" height="6" viewBox="5 8 14 8" fill="none" stroke="currentColor" stroke-width="1.6" stroke-linecap="round" stroke-linejoin="round"><path d="m6 9 6 6 6-6"/></svg>
<div class="r" style="left:1474px;top:669.4px;width:16px;height:16px;background:#1b3eb6;border-radius:3px"></div>
<svg class="r" style="left:1477px;top:672.9px;color:#fff;" width="10" height="9" viewBox="3 4 18 15" fill="none" stroke="currentColor" stroke-width="2.6" stroke-linecap="round" stroke-linejoin="round"><path d="M20 6 9 17l-5-5"/></svg>
<div class="r" style="left:1527px;top:662px;width:128px;height:32px;background:#fff;border:1px solid #e5e5e5;border-radius:4px;box-sizing:border-box"></div>
<div class="t" style="left:1541.00px;top:671.00px;font-size:14.9px;color:#0a0a0a;font-weight:normal;">Molded AU</div>
<svg class="r" style="left:1629.5px;top:670.9px;color:#737373;" width="9" height="14" viewBox="5 2 14 20" fill="none" stroke="currentColor" stroke-width="1.8" stroke-linecap="round" stroke-linejoin="round"><path d="m7 15 5 5 5-5"/><path d="m7 9 5-5 5 5"/></svg>
<div class="r" style="left:1667.3px;top:662px;width:64.5px;height:32px;background:#fff;border:1px solid #ececec;border-radius:4px;box-sizing:border-box"></div>
<div class="t" style="left:1680.40px;top:672.00px;font-size:14.9px;color:#a3a3a3;font-weight:normal;">10</div>
<div class="r" style="left:1743.8px;top:662px;width:68px;height:32px;background:#fff;border:1px solid #e5e5e5;border-radius:4px;box-sizing:border-box"></div>
<div class="t" style="left:1757.00px;top:672.00px;font-size:14.9px;color:#0a0a0a;font-weight:normal;">0.25</div>
<div class="r" style="left:1824px;top:662px;width:29px;height:32px;overflow:hidden"><div style="position:absolute;left:0;top:0;width:60px;height:32px;border:1px solid #e5e5e5;border-radius:4px;box-sizing:border-box"></div></div>
<div class="t" style="left:1836.80px;top:672.00px;font-size:14.9px;color:#0a0a0a;font-weight:normal;width:16.5px;overflow:hidden">125</div>
<div class="r" style="left:587px;top:751px;width:1266px;height:1px;background:#e5e5e5"></div>
<svg class="r" style="left:598.5px;top:720.9px" width="8" height="11" viewBox="0 0 7 10.6"><circle cx="1.2" cy="1.2" r="1.1" fill="#404040"/><circle cx="1.2" cy="5.3" r="1.1" fill="#404040"/><circle cx="1.2" cy="9.4" r="1.1" fill="#404040"/><circle cx="5.8" cy="1.2" r="1.1" fill="#404040"/><circle cx="5.8" cy="5.3" r="1.1" fill="#404040"/><circle cx="5.8" cy="9.4" r="1.1" fill="#404040"/></svg>
<div class="r" style="left:645px;top:711px;width:120px;height:32px;background:#fff;border:1px solid #e5e5e5;border-radius:4px;box-sizing:border-box"></div>
<div class="t" style="left:658.00px;top:720.00px;font-size:14.9px;color:#0a0a0a;font-weight:normal;">Branded</div>
<svg class="r" style="left:735.5px;top:723.9px;color:#8f8f8f;" width="10" height="6" viewBox="5 8 14 8" fill="none" stroke="currentColor" stroke-width="1.6" stroke-linecap="round" stroke-linejoin="round"><path d="m6 9 6 6 6-6"/></svg>
<div class="r" style="left:777.2px;top:711px;width:128px;height:32px;background:#fff;border:1px solid #e5e5e5;border-radius:4px;box-sizing:border-box"></div>
<div class="t" style="left:790.20px;top:720.00px;font-size:14.9px;color:#0a0a0a;font-weight:normal;">Fiberglass</div>
<svg class="r" style="left:875.7px;top:723.9px;color:#8f8f8f;" width="10" height="6" viewBox="5 8 14 8" fill="none" stroke="currentColor" stroke-width="1.6" stroke-linecap="round" stroke-linejoin="round"><path d="m6 9 6 6 6-6"/></svg>
<div class="r" style="left:917.2px;top:711px;width:143.5px;height:32px;background:#fff;border:1px solid #e5e5e5;border-radius:4px;box-sizing:border-box"></div>
<div class="t" style="left:930.20px;top:720.00px;font-size:14.9px;color:#0a0a0a;font-weight:normal;">ELS</div>
<svg class="r" style="left:1031.2px;top:723.9px;color:#8f8f8f;" width="10" height="6" viewBox="5 8 14 8" fill="none" stroke="currentColor" stroke-width="1.6" stroke-linecap="round" stroke-linejoin="round"><path d="m6 9 6 6 6-6"/></svg>
<div class="r" style="left:1073px;top:711px;width:96px;height:32px;background:#fff;border:1px solid #e5e5e5;border-radius:4px;box-sizing:border-box"></div>
<div class="t" style="left:1086.00px;top:720.00px;font-size:14.9px;color:#0a0a0a;font-weight:normal;width:50px;overflow:hidden">Series 3</div>
<svg class="r" style="left:1139px;top:723.9px;color:#8f8f8f;" width="10" height="6" viewBox="5 8 14 8" fill="none" stroke="currentColor" stroke-width="1.6" stroke-linecap="round" stroke-linejoin="round"><path d="m6 9 6 6 6-6"/></svg>
<div class="r" style="left:1181.4px;top:711px;width:111.5px;height:32px;background:#fff;border:1px solid #e5e5e5;border-radius:4px;box-sizing:border-box"></div>
<div class="t" style="left:1194.40px;top:720.00px;font-size:14.9px;color:#0a0a0a;font-weight:normal;">1 1/4</div>
<svg class="r" style="left:1263.4px;top:723.9px;color:#8f8f8f;" width="10" height="6" viewBox="5 8 14 8" fill="none" stroke="currentColor" stroke-width="1.6" stroke-linecap="round" stroke-linejoin="round"><path d="m6 9 6 6 6-6"/></svg>
<div class="r" style="left:1305.3px;top:711px;width:132.2px;height:32px;background:#fff;border:1px solid #e5e5e5;border-radius:4px;box-sizing:border-box"></div>
<div class="t" style="left:1318.30px;top:720.00px;font-size:14.9px;color:#0a0a0a;font-weight:normal;width:87px;overflow:hidden;font-size:14.3px">ELS 300</div>
<svg class="r" style="left:1408.0px;top:723.9px;color:#8f8f8f;" width="10" height="6" viewBox="5 8 14 8" fill="none" stroke="currentColor" stroke-width="1.6" stroke-linecap="round" stroke-linejoin="round"><path d="m6 9 6 6 6-6"/></svg>
<div class="r" style="left:1474px;top:718.4px;width:16px;height:16px;background:#fff;border:1px solid #ececec;border-radius:3px;box-sizing:border-box"></div>
<div class="r" style="left:1527px;top:711px;width:128px;height:32px;background:#f4f4f5;border:1px solid #e5e5e5;border-radius:4px;box-sizing:border-box"></div>
<div class="t" style="left:1541.00px;top:720.00px;font-size:14.9px;color:#737373;font-weight:normal;">Select</div>
<svg class="r" style="left:1629.5px;top:719.9px;color:#737373;" width="9" height="14" viewBox="5 2 14 20" fill="none" stroke="currentColor" stroke-width="1.8" stroke-linecap="round" stroke-linejoin="round"><path d="m7 15 5 5 5-5"/><path d="m7 9 5-5 5 5"/></svg>
<div class="r" style="left:1667.3px;top:711px;width:64.5px;height:32px;background:#fff;border:1px solid #ececec;border-radius:4px;box-sizing:border-box"></div>
<div class="t" style="left:1680.40px;top:721.00px;font-size:14.9px;color:#a3a3a3;font-weight:normal;">0</div>
<div class="r" style="left:1743.8px;top:711px;width:68px;height:32px;background:#fff;border:1px solid #e5e5e5;border-radius:4px;box-sizing:border-box"></div>
<div class="t" style="left:1757.00px;top:721.00px;font-size:14.9px;color:#0a0a0a;font-weight:normal;">0.25</div>
<div class="r" style="left:1824px;top:711px;width:29px;height:32px;overflow:hidden"><div style="position:absolute;left:0;top:0;width:60px;height:32px;border:1px solid #e5e5e5;border-radius:4px;box-sizing:border-box"></div></div>
<div class="t" style="left:1836.80px;top:721.00px;font-size:14.9px;color:#0a0a0a;font-weight:normal;width:16.5px;overflow:hidden">150</div>
<div class="r" style="left:587px;top:800px;width:1266px;height:1px;background:#e5e5e5"></div>
<svg class="r" style="left:598.5px;top:769.9px" width="8" height="11" viewBox="0 0 7 10.6"><circle cx="1.2" cy="1.2" r="1.1" fill="#404040"/><circle cx="1.2" cy="5.3" r="1.1" fill="#404040"/><circle cx="1.2" cy="9.4" r="1.1" fill="#404040"/><circle cx="5.8" cy="1.2" r="1.1" fill="#404040"/><circle cx="5.8" cy="5.3" r="1.1" fill="#404040"/><circle cx="5.8" cy="9.4" r="1.1" fill="#404040"/></svg>
<div class="r" style="left:645px;top:760px;width:120px;height:32px;background:#fff;border:1px solid #e5e5e5;border-radius:4px;box-sizing:border-box"></div>
<div class="t" style="left:658.00px;top:769.00px;font-size:14.9px;color:#0a0a0a;font-weight:normal;">Branded</div>
<svg class="r" style="left:735.5px;top:772.9px;color:#8f8f8f;" width="10" height="6" viewBox="5 8 14 8" fill="none" stroke="currentColor" stroke-width="1.6" stroke-linecap="round" stroke-linejoin="round"><path d="m6 9 6 6 6-6"/></svg>
<div class="r" style="left:777.2px;top:760px;width:128px;height:32px;background:#fff;border:1px solid #e5e5e5;border-radius:4px;box-sizing:border-box"></div>
<div class="t" style="left:790.20px;top:769.00px;font-size:14.9px;color:#0a0a0a;font-weight:normal;">Sucker Rod</div>
<svg class="r" style="left:875.7px;top:772.9px;color:#8f8f8f;" width="10" height="6" viewBox="5 8 14 8" fill="none" stroke="currentColor" stroke-width="1.6" stroke-linecap="round" stroke-linejoin="round"><path d="m6 9 6 6 6-6"/></svg>
<div class="r" style="left:917.2px;top:760px;width:143.5px;height:32px;background:#fff;border:1px solid #e5e5e5;border-radius:4px;box-sizing:border-box"></div>
<div class="t" style="left:930.20px;top:769.00px;font-size:14.9px;color:#0a0a0a;font-weight:normal;">Tenaris</div>
<svg class="r" style="left:1031.2px;top:772.9px;color:#8f8f8f;" width="10" height="6" viewBox="5 8 14 8" fill="none" stroke="currentColor" stroke-width="1.6" stroke-linecap="round" stroke-linejoin="round"><path d="m6 9 6 6 6-6"/></svg>
<div class="r" style="left:1073px;top:760px;width:96px;height:32px;background:#fff;border:1px solid #e5e5e5;border-radius:4px;box-sizing:border-box"></div>
<div class="t" style="left:1086.00px;top:769.00px;font-size:14.9px;color:#0a0a0a;font-weight:normal;width:50px;overflow:hidden">AlphaRo</div>
<svg class="r" style="left:1139px;top:772.9px;color:#8f8f8f;" width="10" height="6" viewBox="5 8 14 8" fill="none" stroke="currentColor" stroke-width="1.6" stroke-linecap="round" stroke-linejoin="round"><path d="m6 9 6 6 6-6"/></svg>
<div class="r" style="left:1181.4px;top:760px;width:111.5px;height:32px;background:#fff;border:1px solid #e5e5e5;border-radius:4px;box-sizing:border-box"></div>
<div class="t" style="left:1194.40px;top:769.00px;font-size:14.9px;color:#0a0a0a;font-weight:normal;">1</div>
<svg class="r" style="left:1263.4px;top:772.9px;color:#8f8f8f;" width="10" height="6" viewBox="5 8 14 8" fill="none" stroke="currentColor" stroke-width="1.6" stroke-linecap="round" stroke-linejoin="round"><path d="m6 9 6 6 6-6"/></svg>
<div class="r" style="left:1305.3px;top:760px;width:132.2px;height:32px;background:#fff;border:1px solid #e5e5e5;border-radius:4px;box-sizing:border-box"></div>
<div class="t" style="left:1318.30px;top:769.00px;font-size:14.9px;color:#0a0a0a;font-weight:normal;width:87px;overflow:hidden;font-size:14.3px">AlphaRod CS</div>
<svg class="r" style="left:1408.0px;top:772.9px;color:#8f8f8f;" width="10" height="6" viewBox="5 8 14 8" fill="none" stroke="currentColor" stroke-width="1.6" stroke-linecap="round" stroke-linejoin="round"><path d="m6 9 6 6 6-6"/></svg>
<div class="r" style="left:1474px;top:767.4px;width:16px;height:16px;background:#1b3eb6;border-radius:3px"></div>
<svg class="r" style="left:1477px;top:770.9px;color:#fff;" width="10" height="9" viewBox="3 4 18 15" fill="none" stroke="currentColor" stroke-width="2.6" stroke-linecap="round" stroke-linejoin="round"><path d="M20 6 9 17l-5-5"/></svg>
<div class="r" style="left:1527px;top:760px;width:128px;height:32px;background:#fff;border:1px solid #e5e5e5;border-radius:4px;box-sizing:border-box"></div>
<div class="t" style="left:1541.00px;top:769.00px;font-size:14.9px;color:#0a0a0a;font-weight:normal;">Molded AU</div>
<svg class="r" style="left:1629.5px;top:768.9px;color:#737373;" width="9" height="14" viewBox="5 2 14 20" fill="none" stroke="currentColor" stroke-width="1.8" stroke-linecap="round" stroke-linejoin="round"><path d="m7 15 5 5 5-5"/><path d="m7 9 5-5 5 5"/></svg>
<div class="r" style="left:1667.3px;top:760px;width:64.5px;height:32px;background:#fff;border:1px solid #ececec;border-radius:4px;box-sizing:border-box"></div>
<div class="t" style="left:1680.40px;top:770.00px;font-size:14.9px;color:#a3a3a3;font-weight:normal;">6</div>
<div class="r" style="left:1743.8px;top:760px;width:68px;height:32px;background:#fff;border:1px solid #e5e5e5;border-radius:4px;box-sizing:border-box"></div>
<div class="t" style="left:1757.00px;top:770.00px;font-size:14.9px;color:#0a0a0a;font-weight:normal;">0.25</div>
<div class="r" style="left:1824px;top:760px;width:29px;height:32px;overflow:hidden"><div style="position:absolute;left:0;top:0;width:60px;height:32px;border:1px solid #e5e5e5;border-radius:4px;box-sizing:border-box"></div></div>
<div class="t" style="left:1836.80px;top:770.00px;font-size:14.9px;color:#0a0a0a;font-weight:normal;width:16.5px;overflow:hidden">120</div>
<svg class="r" style="left:598.5px;top:818.9px" width="8" height="11" viewBox="0 0 7 10.6"><circle cx="1.2" cy="1.2" r="1.1" fill="#404040"/><circle cx="1.2" cy="5.3" r="1.1" fill="#404040"/><circle cx="1.2" cy="9.4" r="1.1" fill="#404040"/><circle cx="5.8" cy="1.2" r="1.1" fill="#404040"/><circle cx="5.8" cy="5.3" r="1.1" fill="#404040"/><circle cx="5.8" cy="9.4" r="1.1" fill="#404040"/></svg>
<div class="r" style="left:645px;top:809px;width:120px;height:32px;background:#fff;border:1px solid #e5e5e5;border-radius:4px;box-sizing:border-box"></div>
<div class="t" style="left:658.00px;top:818.00px;font-size:14.9px;color:#0a0a0a;font-weight:normal;">Branded</div>
<svg class="r" style="left:735.5px;top:821.9px;color:#8f8f8f;" width="10" height="6" viewBox="5 8 14 8" fill="none" stroke="currentColor" stroke-width="1.6" stroke-linecap="round" stroke-linejoin="round"><path d="m6 9 6 6 6-6"/></svg>
<div class="r" style="left:777.2px;top:809px;width:128px;height:32px;background:#fff;border:1px solid #e5e5e5;border-radius:4px;box-sizing:border-box"></div>
<div class="t" style="left:790.20px;top:818.00px;font-size:14.9px;color:#0a0a0a;font-weight:normal;">Sinker Bar</div>
<svg class="r" style="left:875.7px;top:821.9px;color:#8f8f8f;" width="10" height="6" viewBox="5 8 14 8" fill="none" stroke="currentColor" stroke-width="1.6" stroke-linecap="round" stroke-linejoin="round"><path d="m6 9 6 6 6-6"/></svg>
<div class="r" style="left:917.2px;top:809px;width:143.5px;height:32px;background:#fff;border:1px solid #e5e5e5;border-radius:4px;box-sizing:border-box"></div>
<div class="t" style="left:930.20px;top:818.00px;font-size:14.9px;color:#0a0a0a;font-weight:normal;">API</div>
<svg class="r" style="left:1031.2px;top:821.9px;color:#8f8f8f;" width="10" height="6" viewBox="5 8 14 8" fill="none" stroke="currentColor" stroke-width="1.6" stroke-linecap="round" stroke-linejoin="round"><path d="m6 9 6 6 6-6"/></svg>
<div class="r" style="left:1073px;top:809px;width:96px;height:32px;background:#fff;border:1px solid #e5e5e5;border-radius:4px;box-sizing:border-box"></div>
<div class="t" style="left:1086.00px;top:818.00px;font-size:14.9px;color:#0a0a0a;font-weight:normal;width:50px;overflow:hidden">D (Sinke</div>
<svg class="r" style="left:1139px;top:821.9px;color:#8f8f8f;" width="10" height="6" viewBox="5 8 14 8" fill="none" stroke="currentColor" stroke-width="1.6" stroke-linecap="round" stroke-linejoin="round"><path d="m6 9 6 6 6-6"/></svg>
<div class="r" style="left:1181.4px;top:809px;width:111.5px;height:32px;background:#fff;border:1px solid #e5e5e5;border-radius:4px;box-sizing:border-box"></div>
<div class="t" style="left:1194.40px;top:818.00px;font-size:14.9px;color:#0a0a0a;font-weight:normal;">1 5/8</div>
<svg class="r" style="left:1263.4px;top:821.9px;color:#8f8f8f;" width="10" height="6" viewBox="5 8 14 8" fill="none" stroke="currentColor" stroke-width="1.6" stroke-linecap="round" stroke-linejoin="round"><path d="m6 9 6 6 6-6"/></svg>
<div class="r" style="left:1305.3px;top:809px;width:132.2px;height:32px;background:#fff;border:1px solid #e5e5e5;border-radius:4px;box-sizing:border-box"></div>
<div class="t" style="left:1318.30px;top:818.00px;font-size:14.9px;color:#0a0a0a;font-weight:normal;width:87px;overflow:hidden;font-size:14.3px">T/4</div>
<svg class="r" style="left:1408.0px;top:821.9px;color:#8f8f8f;" width="10" height="6" viewBox="5 8 14 8" fill="none" stroke="currentColor" stroke-width="1.6" stroke-linecap="round" stroke-linejoin="round"><path d="m6 9 6 6 6-6"/></svg>
<div class="r" style="left:1474px;top:816.4px;width:16px;height:16px;background:#fff;border:1px solid #ececec;border-radius:3px;box-sizing:border-box"></div>
<div class="r" style="left:1527px;top:809px;width:128px;height:32px;background:#f4f4f5;border:1px solid #e5e5e5;border-radius:4px;box-sizing:border-box"></div>
<div class="t" style="left:1541.00px;top:818.00px;font-size:14.9px;color:#737373;font-weight:normal;">Select</div>
<svg class="r" style="left:1629.5px;top:817.9px;color:#737373;" width="9" height="14" viewBox="5 2 14 20" fill="none" stroke="currentColor" stroke-width="1.8" stroke-linecap="round" stroke-linejoin="round"><path d="m7 15 5 5 5-5"/><path d="m7 9 5-5 5 5"/></svg>
<div class="r" style="left:1667.3px;top:809px;width:64.5px;height:32px;background:#fff;border:1px solid #ececec;border-radius:4px;box-sizing:border-box"></div>
<div class="t" style="left:1680.40px;top:819.00px;font-size:14.9px;color:#a3a3a3;font-weight:normal;">0</div>
<div class="r" style="left:1743.8px;top:809px;width:68px;height:32px;background:#fff;border:1px solid #e5e5e5;border-radius:4px;box-sizing:border-box"></div>
<div class="t" style="left:1757.00px;top:819.00px;font-size:14.9px;color:#0a0a0a;font-weight:normal;">0.25</div>
<div class="r" style="left:1824px;top:809px;width:29px;height:32px;overflow:hidden"><div style="position:absolute;left:0;top:0;width:60px;height:32px;border:1px solid #e5e5e5;border-radius:4px;box-sizing:border-box"></div></div>
<div class="t" style="left:1836.80px;top:819.00px;font-size:14.9px;color:#0a0a0a;font-weight:normal;width:16.5px;overflow:hidden">80</div>
<div class="r" style="left:587px;top:850px;width:1266px;height:13px;background:#fafafa;border-top:1px solid #ececec;box-sizing:border-box"></div>
<div class="r" style="left:590px;top:853px;width:1120px;height:8px;background:#c1c1c1;border-radius:4px"></div>
<div class="r" style="left:600px;top:881px;width:99px;height:32px;background:#1b3eb6;border-radius:4px"></div>
<div class="t" style="right:1231.00px;top:890.00px;font-size:14.9px;color:#fff;font-weight:normal;">aper</div>
<div class="t" style="left:1566.30px;top:956.00px;font-size:14px;color:#0a0a0a;font-weight:normal;-webkit-text-stroke:0.35px #0a0a0a;letter-spacing:0.55px">PSN Depth (ftKB)</div>
<svg class="r" style="left:1689.0px;top:955.1px;color:#525252;" width="16" height="16" viewBox="1 1 22 22" fill="none" stroke="currentColor" stroke-width="1.9500000000000002" stroke-linecap="round" stroke-linejoin="round"><circle cx="12" cy="12" r="10"/><path d="M12 16v-4"/><path d="M12 8h.01"/></svg>
<div class="r" style="left:1734.5px;top:945px;width:119.5px;height:35px;background:#fff;border:1px solid #e5e5e5;border-radius:4px;box-sizing:border-box"></div>
<div class="t" style="right:79.60px;top:957.00px;font-size:14.9px;color:#a3a3a3;font-weight:normal;">9500.00</div>
<div class="t" style="left:1566.30px;top:1000.00px;font-size:14px;color:#0a0a0a;font-weight:normal;-webkit-text-stroke:0.35px #0a0a0a;letter-spacing:0.55px">Total Length (ft)</div>
<svg class="r" style="left:1681.0px;top:999.0px;color:#525252;" width="16" height="16" viewBox="1 1 22 22" fill="none" stroke="currentColor" stroke-width="1.9500000000000002" stroke-linecap="round" stroke-linejoin="round"><circle cx="12" cy="12" r="10"/><path d="M12 16v-4"/><path d="M12 8h.01"/></svg>
<div class="r" style="left:1734.5px;top:989px;width:119.5px;height:35px;background:#fff;border:1px solid #e5e5e5;border-radius:4px;box-sizing:border-box"></div>
<div class="t" style="right:79.60px;top:1001.00px;font-size:14.9px;color:#a3a3a3;font-weight:normal;">9500.00</div>
<div class="t" style="left:1566.30px;top:1044.00px;font-size:14px;color:#0a0a0a;font-weight:normal;-webkit-text-stroke:0.35px #0a0a0a;letter-spacing:0.55px">Difference (ft)</div>
<svg class="r" style="left:1667.0px;top:1043.2px;color:#525252;" width="16" height="16" viewBox="1 1 22 22" fill="none" stroke="currentColor" stroke-width="1.9500000000000002" stroke-linecap="round" stroke-linejoin="round"><circle cx="12" cy="12" r="10"/><path d="M12 16v-4"/><path d="M12 8h.01"/></svg>
<div class="r" style="left:1734.5px;top:1033px;width:119.5px;height:35px;background:#fff;border:1px solid #e5e5e5;border-radius:4px;box-sizing:border-box"></div>
<div class="t" style="right:79.60px;top:1045.00px;font-size:14.9px;color:#a3a3a3;font-weight:normal;">0.00</div>
<div class="r" style="left:1855.5px;top:1009.5px;width:47px;height:47px;border-radius:50%;background:#fff;box-shadow:0 4px 14px rgba(0,0,0,0.12),0 0 0 1px rgba(0,0,0,0.03)"></div>
<svg class="r" style="left:1869px;top:1023px;color:#0a0a0a;" width="20" height="20" viewBox="0 0 24 24" fill="none" stroke="currentColor" stroke-width="2" stroke-linecap="round" stroke-linejoin="round"><circle cx="12" cy="12" r="10"/><path d="M9.09 9a3 3 0 0 1 5.83 1c0 2-3 3-3 3"/><path d="M12 17h.01"/></svg>
<svg class="r" style="left:1900px;top:1060px" width="20" height="20" viewBox="0 0 20 20"><path d="M20 7 A14 14 0 0 1 9 20 L20 20Z" fill="#0b1020"/></svg>
<svg class="r" style="left:0px;top:1060px" width="20" height="20" viewBox="0 0 20 20"><path d="M0 7 A14 14 0 0 0 11 20 L0 20Z" fill="#0a0e1e"/></svg>
<div class="r" style="left:8px;top:714px;width:240px;height:308px;background:#fff;border-radius:6px;box-shadow:0 4px 16px rgba(0,0,0,0.18);"></div>
<svg class="r" style="left:17px;top:738px" width="32" height="32" viewBox="0 0 32 32">
      <defs><clipPath id="cp17738"><circle cx="16" cy="16" r="16"/></clipPath>
      <radialGradient id="bgav17738" cx="0.4" cy="0.45" r="0.7"><stop offset="0" stop-color="#c6bdac"/><stop offset="1" stop-color="#a89f8c"/></radialGradient></defs>
      <g clip-path="url(#cp17738)">
      <rect width="32" height="32" fill="url(#bgav17738)"/>
      <path d="M6.5 33 L7.5 24 C8.5 20.5 12 18.5 14.5 17.5 L19 17.5 C22 18.5 26 20 28.5 23 L30 33Z" fill="#1f2527"/>
      <path d="M14.5 15 L19 15 L18.5 19.5 L16.5 22 L14.8 19.5Z" fill="#b4856b"/>
      <path d="M15 19.5 L16.5 22.5 L18.2 19.5 L17.5 22.5 L15.5 22.5Z" fill="#8f9294"/>
      <ellipse cx="16.7" cy="10.8" rx="4.3" ry="6" fill="#bf8b6f"/>
      <path d="M12.3 9 C12.2 3.5 21 3.3 21.1 9 C20 6.5 13.5 6.3 12.3 9Z" fill="#5a4638"/>
      <path d="M19 24 L22 24.5" stroke="#8a8f92" stroke-width="0.6"/>
      </g></svg>
<div class="t" style="left:57.00px;top:727.00px;font-size:14px;color:#0a0a0a;font-weight:bold;">John Henderson</div>
<div class="t" style="left:57.00px;top:745.00px;font-size:12.8px;color:#737373;font-weight:normal;">john.henderson@petrobench....</div>
<div class="r" style="left:57px;top:761px;width:72px;height:22px;background:#1b3eb6;border-radius:4px"></div>
<div class="t" style="left:64.00px;top:766.00px;font-size:12px;color:#fff;font-weight:normal;-webkit-text-stroke:0.3px #fff;letter-spacing:0.3px">HQ Admin</div>
<div class="r" style="left:8px;top:793px;width:240px;height:1px;background:#e5e5e5"></div>
<svg class="r" style="left:21.5px;top:806.5px;color:#525252;" width="15" height="15" viewBox="1 1 22 22" fill="none" stroke="currentColor" stroke-width="1.7" stroke-linecap="round" stroke-linejoin="round"><circle cx="12" cy="12" r="10"/><path d="M12 16v-4"/><path d="M12 8h.01"/></svg>
<div class="t" style="left:53.00px;top:807.00px;font-size:14.9px;color:#0a0a0a;font-weight:normal;">About</div>
<div class="r" style="left:8px;top:834px;width:240px;height:1px;background:#e5e5e5"></div>
<svg class="r" style="left:22px;top:847px;color:#525252;" width="16" height="16" viewBox="1 1 22 22" fill="none" stroke="currentColor" stroke-width="1.7" stroke-linecap="round" stroke-linejoin="round"><path d="m5 8 6 6"/><path d="m4 14 6-6 2-3"/><path d="M2 5h12"/><path d="M7 2h1"/><path d="m22 22-5-10-5 10"/><path d="M14 18h6"/></svg>
<div class="t" style="left:53.00px;top:848.00px;font-size:14.9px;color:#0a0a0a;font-weight:normal;">Language</div>
<svg class="r" style="left:153px;top:849.5px" width="13" height="10" viewBox="0 0 13 10"><rect width="13" height="10" fill="#f2e8ea" rx="1"/><rect x="0" y="0.00" width="13" height="0.71" fill="#d63a45"/><rect x="0" y="1.43" width="13" height="0.71" fill="#d63a45"/><rect x="0" y="2.86" width="13" height="0.71" fill="#d63a45"/><rect x="0" y="4.29" width="13" height="0.71" fill="#d63a45"/><rect x="0" y="5.71" width="13" height="0.71" fill="#d63a45"/><rect x="0" y="7.14" width="13" height="0.71" fill="#d63a45"/><rect x="0" y="8.57" width="13" height="0.71" fill="#d63a45"/><rect width="5.85" height="5.50" fill="#3c4a8a"/></svg>
<div class="t" style="left:170.00px;top:850.00px;font-size:12.8px;color:#737373;font-weight:normal;">English</div>
<svg class="r" style="left:222px;top:849px;color:#0a0a0a;" width="8" height="12" viewBox="7 4 10 16" fill="none" stroke="currentColor" stroke-width="2.2" stroke-linecap="round" stroke-linejoin="round"><path d="m9 18 6-6-6-6"/></svg>
<div class="r" style="left:13px;top:871px;width:230px;height:31px;background:#f4f4f5;border-radius:4px"></div>
<svg class="r" style="left:22px;top:879px;color:#525252;" width="16" height="16" viewBox="1 1 22 22" fill="none" stroke="currentColor" stroke-width="1.7" stroke-linecap="round" stroke-linejoin="round"><path d="M21.3 15.3a2.4 2.4 0 0 1 0 3.4l-2.6 2.6a2.4 2.4 0 0 1-3.4 0L2.7 8.7a2.41 2.41 0 0 1 0-3.4l2.6-2.6a2.41 2.41 0 0 1 3.4 0Z"/><path d="m14.5 12.5 2-2"/><path d="m11.5 9.5 2-2"/><path d="m8.5 6.5 2-2"/><path d="m17.5 15.5 2-2"/></svg>
<div class="t" style="left:53.00px;top:880.00px;font-size:14.9px;color:#0a0a0a;font-weight:normal;">Units</div>
<svg class="r" style="left:120px;top:881.5px" width="13" height="10" viewBox="0 0 13 10"><rect width="13" height="10" fill="#f2e8ea" rx="1"/><rect x="0" y="0.00" width="13" height="0.71" fill="#d63a45"/><rect x="0" y="1.43" width="13" height="0.71" fill="#d63a45"/><rect x="0" y="2.86" width="13" height="0.71" fill="#d63a45"/><rect x="0" y="4.29" width="13" height="0.71" fill="#d63a45"/><rect x="0" y="5.71" width="13" height="0.71" fill="#d63a45"/><rect x="0" y="7.14" width="13" height="0.71" fill="#d63a45"/><rect x="0" y="8.57" width="13" height="0.71" fill="#d63a45"/><rect width="5.85" height="5.50" fill="#3c4a8a"/></svg>
<div class="t" style="left:137.00px;top:882.00px;font-size:12.8px;color:#737373;font-weight:normal;">US (Imperial)</div>
<svg class="r" style="left:222px;top:881px;color:#0a0a0a;" width="8" height="12" viewBox="7 4 10 16" fill="none" stroke="currentColor" stroke-width="2.2" stroke-linecap="round" stroke-linejoin="round"><path d="m9 18 6-6-6-6"/></svg>
<div class="r" style="left:8px;top:907px;width:240px;height:1px;background:#e5e5e5"></div>
<svg class="r" style="left:22px;top:920px;color:#525252;" width="16" height="16" viewBox="1 1 22 22" fill="none" stroke="currentColor" stroke-width="1.7" stroke-linecap="round" stroke-linejoin="round"><path d="M21.42 10.922a1 1 0 0 0-.019-1.838L12.83 5.18a2 2 0 0 0-1.66 0L2.6 9.08a1 1 0 0 0 0 1.832l8.57 3.908a2 2 0 0 0 1.66 0z"/><path d="M22 10v6"/><path d="M6 12.5V16a6 3 0 0 0 12 0v-3.5"/></svg>
<div class="t" style="left:53.00px;top:921.00px;font-size:14.9px;color:#0a0a0a;font-weight:normal;">Tours</div>
<svg class="r" style="left:22px;top:952.5px;color:#525252;" width="15" height="15" viewBox="1 1 22 22" fill="none" stroke="currentColor" stroke-width="1.7" stroke-linecap="round" stroke-linejoin="round"><path d="M12.22 2h-.44a2 2 0 0 0-2 2v.18a2 2 0 0 1-1 1.73l-.43.25a2 2 0 0 1-2 0l-.15-.08a2 2 0 0 0-2.73.73l-.22.38a2 2 0 0 0 .73 2.73l.15.1a2 2 0 0 1 1 1.72v.51a2 2 0 0 1-1 1.74l-.15.09a2 2 0 0 0-.73 2.73l.22.38a2 2 0 0 0 2.73.73l.15-.08a2 2 0 0 1 2 0l.43.25a2 2 0 0 1 1 1.73V20a2 2 0 0 0 2 2h.44a2 2 0 0 0 2-2v-.18a2 2 0 0 1 1-1.73l.43-.25a2 2 0 0 1 2 0l.15.08a2 2 0 0 0 2.73-.73l.22-.39a2 2 0 0 0-.73-2.73l-.15-.08a2 2 0 0 1-1-1.74v-.5a2 2 0 0 1 1-1.74l.15-.09a2 2 0 0 0 .73-2.73l-.22-.38a2 2 0 0 0-2.73-.73l-.15.08a2 2 0 0 1-2 0l-.43-.25a2 2 0 0 1-1-1.73V4a2 2 0 0 0-2-2z"/><circle cx="12" cy="12" r="3"/></svg>
<div class="t" style="left:53.00px;top:954.00px;font-size:14.9px;color:#0a0a0a;font-weight:normal;">Settings</div>
<div class="r" style="left:8px;top:980px;width:240px;height:1px;background:#e5e5e5"></div>
<svg class="r" style="left:22px;top:993px;color:#525252;" width="15" height="15" viewBox="2 2 20 20" fill="none" stroke="currentColor" stroke-width="1.7" stroke-linecap="round" stroke-linejoin="round"><path d="M9 21H5a2 2 0 0 1-2-2V5a2 2 0 0 1 2-2h4"/><polyline points="16 17 21 12 16 7"/><line x1="21" x2="9" y1="12" y2="12"/></svg>
<div class="t" style="left:53.00px;top:994.00px;font-size:14.9px;color:#0a0a0a;font-weight:normal;">Log out</div>
<div class="r" style="left:243px;top:871px;width:419.5px;height:165px;background:#fff;border:1px solid #e5e5e5;box-sizing:border-box;border-radius:5px;box-shadow:0 4px 14px rgba(0,0,0,0.12);"></div>
<svg class="r" style="left:257px;top:889px" width="16" height="12" viewBox="0 0 16 12"><rect width="16" height="12" fill="#f2e8ea" rx="1"/><rect x="0" y="0.00" width="16" height="0.86" fill="#d63a45"/><rect x="0" y="1.71" width="16" height="0.86" fill="#d63a45"/><rect x="0" y="3.43" width="16" height="0.86" fill="#d63a45"/><rect x="0" y="5.14" width="16" height="0.86" fill="#d63a45"/><rect x="0" y="6.86" width="16" height="0.86" fill="#d63a45"/><rect x="0" y="8.57" width="16" height="0.86" fill="#d63a45"/><rect x="0" y="10.29" width="16" height="0.86" fill="#d63a45"/><rect width="7.20" height="6.60" fill="#3c4a8a"/></svg>
<div class="t" style="left:282.00px;top:887.00px;font-size:14.9px;color:#0a0a0a;font-weight:normal;">US (Imperial)</div>
<div class="t" style="left:282.00px;top:906.00px;font-size:12.8px;color:#737373;font-weight:normal;">US customary units (feet, psi, lbs, API gravity)</div>
<svg class="r" style="left:636px;top:888.5px;color:#1b3eb6;" width="12" height="9" viewBox="3 5 18 13" fill="none" stroke="currentColor" stroke-width="2.1" stroke-linecap="round" stroke-linejoin="round"><path d="M20 6 9 17l-5-5"/></svg>
<svg class="r" style="left:257px;top:941px" width="16" height="12" viewBox="0 0 16 12"><rect width="16" height="12" fill="#fff"/><rect width="4" height="12" fill="#e0202e"/><rect x="12" width="4" height="12" fill="#e0202e"/><path d="M8 2.5 L9 4.5 L10.5 4 L10 6.5 L11 6.5 L8.3 9 L8.3 10 L7.7 10 L7.7 9 L5 6.5 L6 6.5 L5.5 4 L7 4.5Z" fill="#e0202e"/></svg>
<div class="t" style="left:282.00px;top:939.00px;font-size:14.9px;color:#0a0a0a;font-weight:normal;">International</div>
<div class="t" style="left:282.00px;top:958.00px;font-size:12.8px;color:#737373;font-weight:normal;">Hybrid system for Canada (meters, kPa, lbs, API gravity)</div>
<svg class="r" style="left:256.5px;top:990px" width="17" height="17" viewBox="0 0 16 16"><defs><radialGradient id="gg" cx="0.42" cy="0.38" r="0.65"><stop offset="0" stop-color="#5fb0f0"/><stop offset="0.7" stop-color="#2d6fc9"/><stop offset="1" stop-color="#173f86"/></radialGradient></defs><circle cx="8" cy="8" r="8" fill="url(#gg)"/><path d="M5.5 2.6 C7 1.6 10 1.8 11.5 3 L10.8 4.6 C9.8 4.4 9 5.2 8.2 4.8 C7.2 4.4 6.2 4.6 5.5 2.6Z" fill="#8fb840"/><path d="M5.2 6.2 C7 5.4 10.5 5.8 12.2 7.4 C12.6 9.2 11.2 10.4 10.6 12 C10 13.8 8.6 14.6 8.2 13.2 C7.8 11.6 7.6 10.4 6.6 9.6 C5.6 9 4.8 8 5.2 6.2Z" fill="#e0c050"/><path d="M8.2 9 C9.5 8.6 11 9.2 11 10.4 C10.4 11.6 9.6 12.8 8.8 12.6 C8.4 11.4 8.2 10.2 8.2 9Z" fill="#5f9a3a"/><path d="M12.6 5.5 C13.5 6 13.8 7 13.4 7.6 C13 7 12.6 6.4 12.6 5.5Z" fill="#8fb840"/></svg>
<div class="t" style="left:282.00px;top:991.00px;font-size:14.9px;color:#0a0a0a;font-weight:normal;">Metric</div>
<div class="t" style="left:282.00px;top:1010.00px;font-size:12.8px;color:#737373;font-weight:normal;">Full metric system (meters, kPa, Newtons, g/cm&sup3;)</div>
</div></body></html>
